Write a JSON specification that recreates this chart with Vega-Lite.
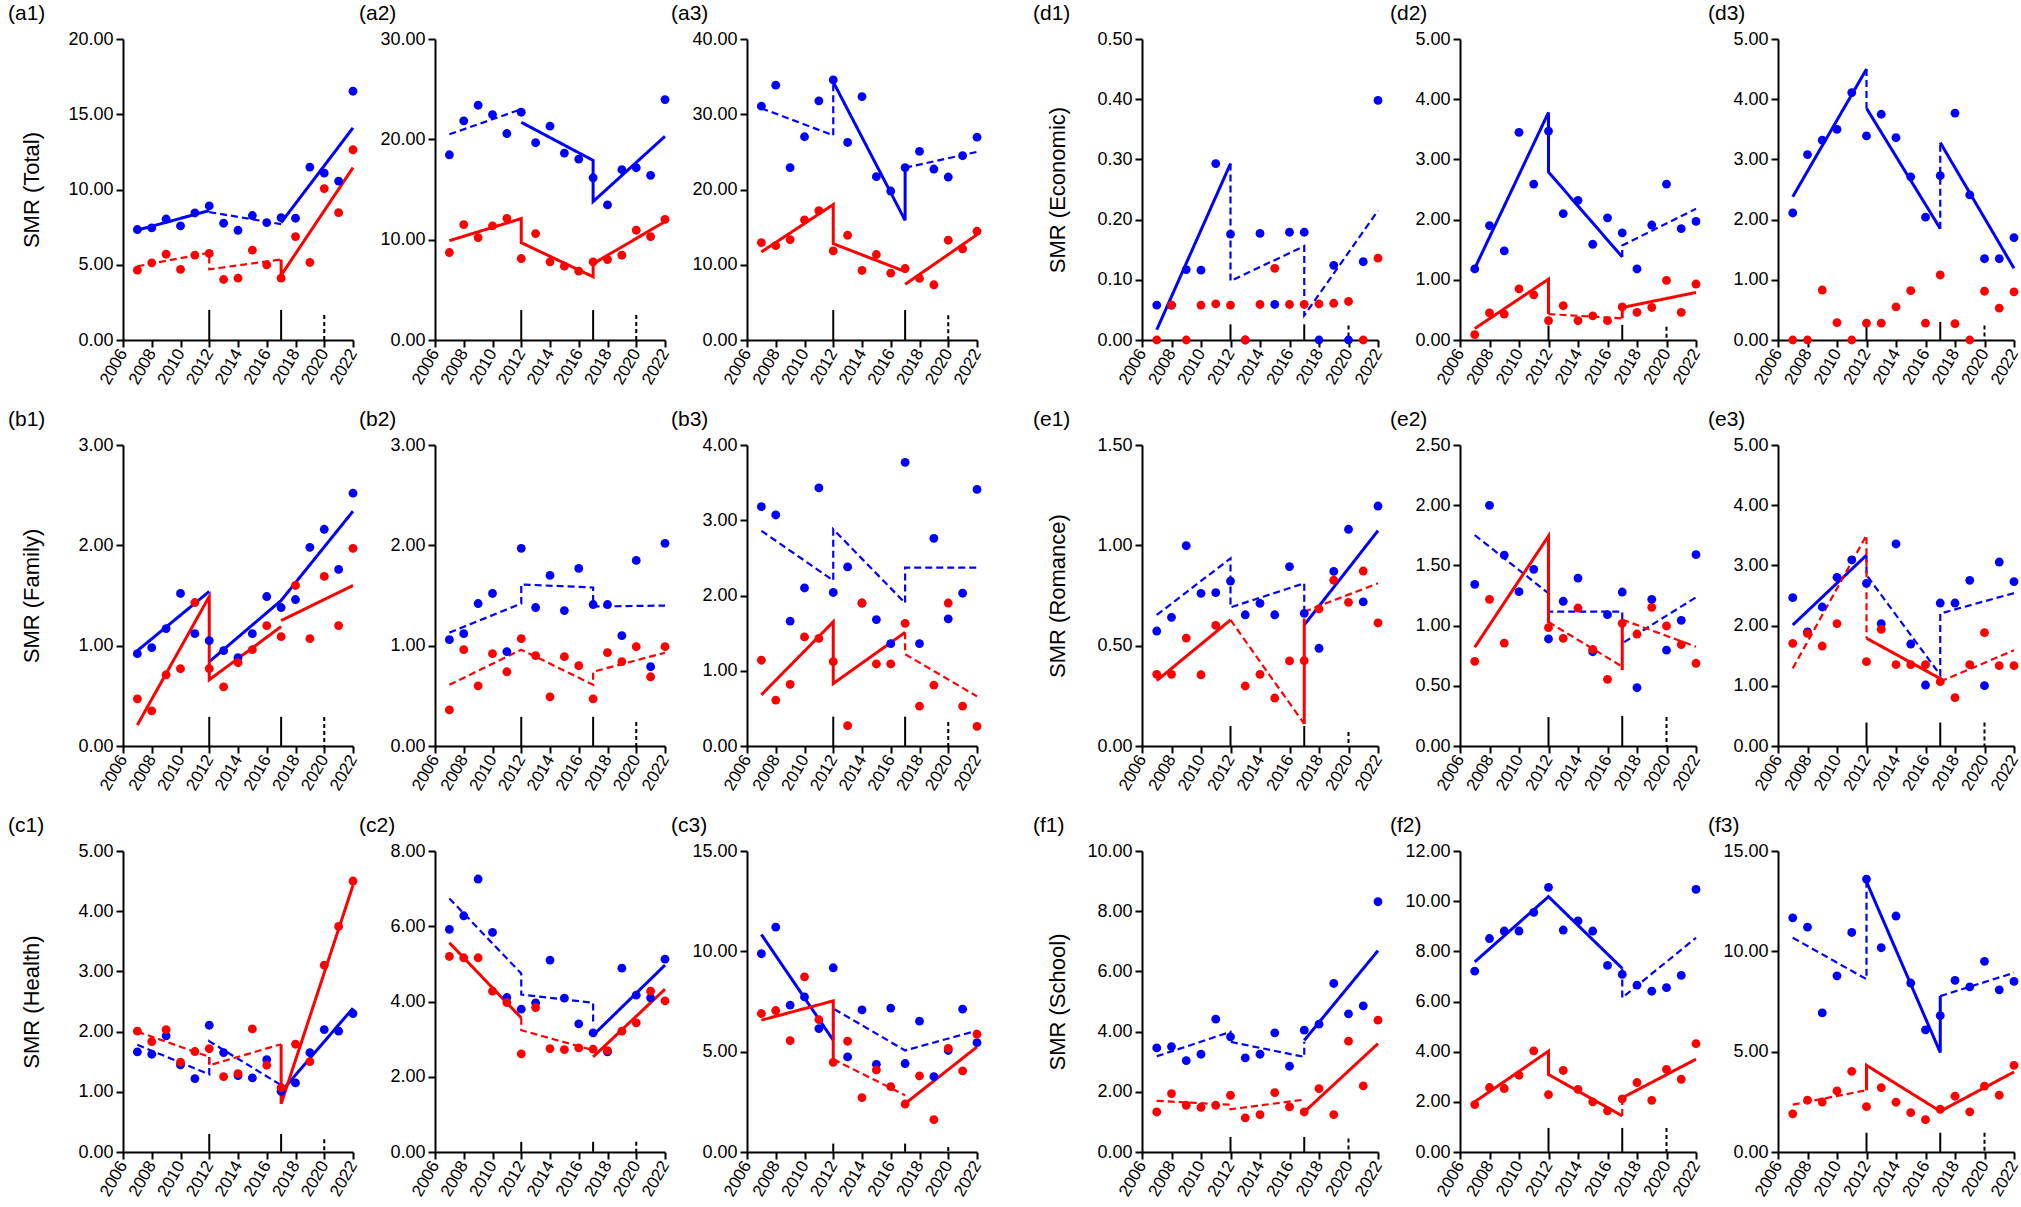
{
"$schema":"https://vega.github.io/schema/vega-lite/v6.json",
"padding":{"left":8,"top":3,"right":0,"bottom":0},
"background":"white",
"datasets":{
"mks":[
{"p":"a1","x":2012,"h":2.0,"d":"s"},{"p":"a1","x":2017,"h":2.0,"d":"s"},{"p":"a1","x":2020,"h":1.66,"d":"d"},
{"p":"a2","x":2012,"h":2.98,"d":"s"},{"p":"a2","x":2017,"h":2.98,"d":"s"},{"p":"a2","x":2020,"h":2.49,"d":"d"},
{"p":"a3","x":2012,"h":3.98,"d":"s"},{"p":"a3","x":2017,"h":3.98,"d":"s"},{"p":"a3","x":2020,"h":3.3,"d":"d"},
{"p":"d1","x":2012,"h":0.026,"d":"s"},{"p":"d1","x":2017,"h":0.026,"d":"s"},{"p":"d1","x":2020,"h":0.024,"d":"d"},
{"p":"d2","x":2012,"h":0.24,"d":"s"},{"p":"d2","x":2017,"h":0.25,"d":"s"},{"p":"d2","x":2020,"h":0.22,"d":"d"},
{"p":"d3","x":2012,"h":0.30,"d":"s"},{"p":"d3","x":2017,"h":0.30,"d":"s"},{"p":"d3","x":2020,"h":0.24,"d":"d"},
{"p":"b1","x":2012,"h":0.29,"d":"s"},{"p":"b1","x":2017,"h":0.29,"d":"s"},{"p":"b1","x":2020,"h":0.29,"d":"d"},
{"p":"b2","x":2012,"h":0.29,"d":"s"},{"p":"b2","x":2017,"h":0.29,"d":"s"},{"p":"b2","x":2020,"h":0.24,"d":"d"},
{"p":"b3","x":2012,"h":0.39,"d":"s"},{"p":"b3","x":2017,"h":0.39,"d":"s"},{"p":"b3","x":2020,"h":0.32,"d":"d"},
{"p":"e1","x":2012,"h":0.10,"d":"s"},{"p":"e1","x":2017,"h":0.10,"d":"s"},{"p":"e1","x":2020,"h":0.07,"d":"d"},
{"p":"e2","x":2012,"h":0.24,"d":"s"},{"p":"e2","x":2017,"h":0.25,"d":"s"},{"p":"e2","x":2020,"h":0.24,"d":"d"},
{"p":"e3","x":2012,"h":0.39,"d":"s"},{"p":"e3","x":2017,"h":0.39,"d":"s"},{"p":"e3","x":2020,"h":0.39,"d":"d"},
{"p":"c1","x":2012,"h":0.30,"d":"s"},{"p":"c1","x":2017,"h":0.30,"d":"s"},{"p":"c1","x":2020,"h":0.21,"d":"d"},
{"p":"c2","x":2012,"h":0.27,"d":"s"},{"p":"c2","x":2017,"h":0.27,"d":"s"},{"p":"c2","x":2020,"h":0.27,"d":"d"},
{"p":"c3","x":2012,"h":0.42,"d":"s"},{"p":"c3","x":2017,"h":0.42,"d":"s"},{"p":"c3","x":2020,"h":0.25,"d":"d"},
{"p":"f1","x":2012,"h":0.50,"d":"s"},{"p":"f1","x":2017,"h":0.50,"d":"s"},{"p":"f1","x":2020,"h":0.45,"d":"d"},
{"p":"f2","x":2012,"h":0.96,"d":"s"},{"p":"f2","x":2017,"h":0.96,"d":"s"},{"p":"f2","x":2020,"h":0.96,"d":"d"},
{"p":"f3","x":2012,"h":0.96,"d":"s"},{"p":"f3","x":2017,"h":0.96,"d":"s"},{"p":"f3","x":2020,"h":0.96,"d":"d"}
],
"lns":[
{"p":"a1","s":"B","g":"a1B1","d":"s","o":0,"x":2007,"y":7.3},{"p":"a1","s":"B","g":"a1B1","d":"s","o":1,"x":2012,"y":8.6},
{"p":"a1","s":"B","g":"a1B2","d":"d","o":0,"x":2012,"y":8.5},{"p":"a1","s":"B","g":"a1B2","d":"d","o":1,"x":2017,"y":7.7},
{"p":"a1","s":"B","g":"a1B3","d":"s","o":0,"x":2017,"y":7.8},{"p":"a1","s":"B","g":"a1B3","d":"s","o":1,"x":2022,"y":14.1},
{"p":"a1","s":"R","g":"a1R1","d":"d","o":0,"x":2007,"y":4.9},{"p":"a1","s":"R","g":"a1R1","d":"d","o":1,"x":2012,"y":5.8},{"p":"a1","s":"R","g":"a1R1","d":"d","o":2,"x":2012,"y":4.7},{"p":"a1","s":"R","g":"a1R1","d":"d","o":3,"x":2017,"y":5.35},
{"p":"a1","s":"R","g":"a1R2","d":"s","o":0,"x":2017,"y":5.35},{"p":"a1","s":"R","g":"a1R2","d":"s","o":1,"x":2017,"y":4.3},{"p":"a1","s":"R","g":"a1R2","d":"s","o":2,"x":2022,"y":11.45},
{"p":"a2","s":"B","g":"a2B1","d":"d","o":0,"x":2007,"y":20.5},{"p":"a2","s":"B","g":"a2B1","d":"d","o":1,"x":2012,"y":23.0},
{"p":"a2","s":"B","g":"a2B2","d":"s","o":0,"x":2012,"y":21.7},{"p":"a2","s":"B","g":"a2B2","d":"s","o":1,"x":2017,"y":17.9},{"p":"a2","s":"B","g":"a2B2","d":"s","o":2,"x":2017,"y":13.8},{"p":"a2","s":"B","g":"a2B2","d":"s","o":3,"x":2022,"y":20.3},
{"p":"a2","s":"R","g":"a2R1","d":"s","o":0,"x":2007,"y":9.9},{"p":"a2","s":"R","g":"a2R1","d":"s","o":1,"x":2012,"y":12.1},{"p":"a2","s":"R","g":"a2R1","d":"s","o":2,"x":2012,"y":9.7},{"p":"a2","s":"R","g":"a2R1","d":"s","o":3,"x":2017,"y":6.3},{"p":"a2","s":"R","g":"a2R1","d":"s","o":4,"x":2017,"y":7.6},{"p":"a2","s":"R","g":"a2R1","d":"s","o":5,"x":2022,"y":11.8},
{"p":"a3","s":"B","g":"a3B1","d":"d","o":0,"x":2007,"y":30.8},{"p":"a3","s":"B","g":"a3B1","d":"d","o":1,"x":2012,"y":27.2},{"p":"a3","s":"B","g":"a3B1","d":"d","o":2,"x":2012,"y":34.3},
{"p":"a3","s":"B","g":"a3B2","d":"s","o":0,"x":2012,"y":34.3},{"p":"a3","s":"B","g":"a3B2","d":"s","o":1,"x":2017,"y":15.9},{"p":"a3","s":"B","g":"a3B2","d":"s","o":2,"x":2017,"y":22.9},
{"p":"a3","s":"B","g":"a3B3","d":"d","o":0,"x":2017,"y":22.9},{"p":"a3","s":"B","g":"a3B3","d":"d","o":1,"x":2022,"y":25.0},
{"p":"a3","s":"R","g":"a3R1","d":"s","o":0,"x":2007,"y":11.7},{"p":"a3","s":"R","g":"a3R1","d":"s","o":1,"x":2012,"y":18.0},{"p":"a3","s":"R","g":"a3R1","d":"s","o":2,"x":2012,"y":12.8},{"p":"a3","s":"R","g":"a3R1","d":"s","o":3,"x":2017,"y":9.1},
{"p":"a3","s":"R","g":"a3R2","d":"s","o":0,"x":2017,"y":7.4},{"p":"a3","s":"R","g":"a3R2","d":"s","o":1,"x":2022,"y":14.0},
{"p":"d1","s":"B","g":"d1B1","d":"s","o":0,"x":2007,"y":0.017},{"p":"d1","s":"B","g":"d1B1","d":"s","o":1,"x":2012,"y":0.293},
{"p":"d1","s":"B","g":"d1B2","d":"d","o":0,"x":2012,"y":0.293},{"p":"d1","s":"B","g":"d1B2","d":"d","o":1,"x":2012,"y":0.098},{"p":"d1","s":"B","g":"d1B2","d":"d","o":2,"x":2017,"y":0.156},{"p":"d1","s":"B","g":"d1B2","d":"d","o":3,"x":2017,"y":0.041},{"p":"d1","s":"B","g":"d1B2","d":"d","o":4,"x":2022,"y":0.215},
{"p":"d2","s":"B","g":"d2B1","d":"s","o":0,"x":2007,"y":1.19},{"p":"d2","s":"B","g":"d2B1","d":"s","o":1,"x":2012,"y":3.78},{"p":"d2","s":"B","g":"d2B1","d":"s","o":2,"x":2012,"y":2.79},{"p":"d2","s":"B","g":"d2B1","d":"s","o":3,"x":2017,"y":1.38},
{"p":"d2","s":"B","g":"d2B2","d":"d","o":0,"x":2017,"y":1.38},{"p":"d2","s":"B","g":"d2B2","d":"d","o":1,"x":2017,"y":1.57},{"p":"d2","s":"B","g":"d2B2","d":"d","o":2,"x":2022,"y":2.18},
{"p":"d2","s":"R","g":"d2R1","d":"s","o":0,"x":2007,"y":0.19},{"p":"d2","s":"R","g":"d2R1","d":"s","o":1,"x":2012,"y":1.01},{"p":"d2","s":"R","g":"d2R1","d":"s","o":2,"x":2012,"y":0.43},
{"p":"d2","s":"R","g":"d2R2","d":"d","o":0,"x":2012,"y":0.43},{"p":"d2","s":"R","g":"d2R2","d":"d","o":1,"x":2017,"y":0.36},
{"p":"d2","s":"R","g":"d2R3","d":"s","o":0,"x":2017,"y":0.36},{"p":"d2","s":"R","g":"d2R3","d":"s","o":1,"x":2017,"y":0.54},{"p":"d2","s":"R","g":"d2R3","d":"s","o":2,"x":2022,"y":0.79},
{"p":"d3","s":"B","g":"d3B1","d":"s","o":0,"x":2007,"y":2.38},{"p":"d3","s":"B","g":"d3B1","d":"s","o":1,"x":2012,"y":4.50},
{"p":"d3","s":"B","g":"d3B2","d":"d","o":0,"x":2012,"y":4.50},{"p":"d3","s":"B","g":"d3B2","d":"d","o":1,"x":2012,"y":3.85},
{"p":"d3","s":"B","g":"d3B3","d":"s","o":0,"x":2012,"y":3.85},{"p":"d3","s":"B","g":"d3B3","d":"s","o":1,"x":2017,"y":1.85},
{"p":"d3","s":"B","g":"d3B4","d":"d","o":0,"x":2017,"y":1.85},{"p":"d3","s":"B","g":"d3B4","d":"d","o":1,"x":2017,"y":3.28},
{"p":"d3","s":"B","g":"d3B5","d":"s","o":0,"x":2017,"y":3.28},{"p":"d3","s":"B","g":"d3B5","d":"s","o":1,"x":2022,"y":1.19},
{"p":"b1","s":"B","g":"b1B1","d":"s","o":0,"x":2007,"y":0.95},{"p":"b1","s":"B","g":"b1B1","d":"s","o":1,"x":2012,"y":1.54},
{"p":"b1","s":"B","g":"b1B2","d":"s","o":0,"x":2012,"y":0.84},{"p":"b1","s":"B","g":"b1B2","d":"s","o":1,"x":2017,"y":1.45},{"p":"b1","s":"B","g":"b1B2","d":"s","o":2,"x":2022,"y":2.34},
{"p":"b1","s":"R","g":"b1R1","d":"s","o":0,"x":2007,"y":0.21},{"p":"b1","s":"R","g":"b1R1","d":"s","o":1,"x":2012,"y":1.49},{"p":"b1","s":"R","g":"b1R1","d":"s","o":2,"x":2012,"y":0.66},{"p":"b1","s":"R","g":"b1R1","d":"s","o":3,"x":2017,"y":1.19},
{"p":"b1","s":"R","g":"b1R2","d":"s","o":0,"x":2017,"y":1.25},{"p":"b1","s":"R","g":"b1R2","d":"s","o":1,"x":2022,"y":1.60},
{"p":"b2","s":"B","g":"b2B1","d":"d","o":0,"x":2007,"y":1.13},{"p":"b2","s":"B","g":"b2B1","d":"d","o":1,"x":2012,"y":1.42},{"p":"b2","s":"B","g":"b2B1","d":"d","o":2,"x":2012,"y":1.61},{"p":"b2","s":"B","g":"b2B1","d":"d","o":3,"x":2017,"y":1.58},{"p":"b2","s":"B","g":"b2B1","d":"d","o":4,"x":2017,"y":1.39},{"p":"b2","s":"B","g":"b2B1","d":"d","o":5,"x":2022,"y":1.40},
{"p":"b2","s":"R","g":"b2R1","d":"d","o":0,"x":2007,"y":0.61},{"p":"b2","s":"R","g":"b2R1","d":"d","o":1,"x":2012,"y":0.96},{"p":"b2","s":"R","g":"b2R1","d":"d","o":2,"x":2017,"y":0.61},{"p":"b2","s":"R","g":"b2R1","d":"d","o":3,"x":2017,"y":0.74},{"p":"b2","s":"R","g":"b2R1","d":"d","o":4,"x":2022,"y":0.93},
{"p":"b3","s":"B","g":"b3B1","d":"d","o":0,"x":2007,"y":2.86},{"p":"b3","s":"B","g":"b3B1","d":"d","o":1,"x":2012,"y":2.20},{"p":"b3","s":"B","g":"b3B1","d":"d","o":2,"x":2012,"y":2.88},{"p":"b3","s":"B","g":"b3B1","d":"d","o":3,"x":2017,"y":1.90},{"p":"b3","s":"B","g":"b3B1","d":"d","o":4,"x":2017,"y":2.37},{"p":"b3","s":"B","g":"b3B1","d":"d","o":5,"x":2022,"y":2.37},
{"p":"b3","s":"R","g":"b3R1","d":"s","o":0,"x":2007,"y":0.68},{"p":"b3","s":"R","g":"b3R1","d":"s","o":1,"x":2012,"y":1.65},{"p":"b3","s":"R","g":"b3R1","d":"s","o":2,"x":2012,"y":0.83},{"p":"b3","s":"R","g":"b3R1","d":"s","o":3,"x":2017,"y":1.51},
{"p":"b3","s":"R","g":"b3R2","d":"d","o":0,"x":2017,"y":1.51},{"p":"b3","s":"R","g":"b3R2","d":"d","o":1,"x":2017,"y":1.22},{"p":"b3","s":"R","g":"b3R2","d":"d","o":2,"x":2022,"y":0.66},
{"p":"e1","s":"B","g":"e1B1","d":"d","o":0,"x":2007,"y":0.653},{"p":"e1","s":"B","g":"e1B1","d":"d","o":1,"x":2012,"y":0.935},{"p":"e1","s":"B","g":"e1B1","d":"d","o":2,"x":2012,"y":0.691},{"p":"e1","s":"B","g":"e1B1","d":"d","o":3,"x":2017,"y":0.811},{"p":"e1","s":"B","g":"e1B1","d":"d","o":4,"x":2017,"y":0.645},
{"p":"e1","s":"B","g":"e1B2","d":"s","o":0,"x":2017,"y":0.603},{"p":"e1","s":"B","g":"e1B2","d":"s","o":1,"x":2022,"y":1.073},
{"p":"e1","s":"R","g":"e1R1","d":"s","o":0,"x":2007,"y":0.326},{"p":"e1","s":"R","g":"e1R1","d":"s","o":1,"x":2012,"y":0.628},
{"p":"e1","s":"R","g":"e1R2","d":"d","o":0,"x":2012,"y":0.628},{"p":"e1","s":"R","g":"e1R2","d":"d","o":1,"x":2017,"y":0.11},
{"p":"e1","s":"R","g":"e1R3","d":"s","o":0,"x":2017,"y":0.11},{"p":"e1","s":"R","g":"e1R3","d":"s","o":1,"x":2017,"y":0.636},
{"p":"e1","s":"R","g":"e1R4","d":"d","o":0,"x":2017,"y":0.669},{"p":"e1","s":"R","g":"e1R4","d":"d","o":1,"x":2022,"y":0.811},
{"p":"e2","s":"B","g":"e2B1","d":"d","o":0,"x":2007,"y":1.752},{"p":"e2","s":"B","g":"e2B1","d":"d","o":1,"x":2012,"y":1.268},{"p":"e2","s":"B","g":"e2B1","d":"d","o":2,"x":2012,"y":1.116},{"p":"e2","s":"B","g":"e2B1","d":"d","o":3,"x":2017,"y":1.116},{"p":"e2","s":"B","g":"e2B1","d":"d","o":4,"x":2017,"y":0.853},{"p":"e2","s":"B","g":"e2B1","d":"d","o":5,"x":2022,"y":1.235},
{"p":"e2","s":"R","g":"e2R1","d":"s","o":0,"x":2007,"y":0.82},{"p":"e2","s":"R","g":"e2R1","d":"s","o":1,"x":2012,"y":1.744},{"p":"e2","s":"R","g":"e2R1","d":"s","o":2,"x":2012,"y":1.02},
{"p":"e2","s":"R","g":"e2R2","d":"d","o":0,"x":2012,"y":1.03},{"p":"e2","s":"R","g":"e2R2","d":"d","o":1,"x":2017,"y":0.659},
{"p":"e2","s":"R","g":"e2R3","d":"s","o":0,"x":2017,"y":0.63},{"p":"e2","s":"R","g":"e2R3","d":"s","o":1,"x":2017,"y":1.05},
{"p":"e2","s":"R","g":"e2R4","d":"d","o":0,"x":2017,"y":1.05},{"p":"e2","s":"R","g":"e2R4","d":"d","o":1,"x":2022,"y":0.825},
{"p":"e3","s":"B","g":"e3B1","d":"s","o":0,"x":2007,"y":2.01},{"p":"e3","s":"B","g":"e3B1","d":"s","o":1,"x":2012,"y":3.17},
{"p":"e3","s":"B","g":"e3B2","d":"d","o":0,"x":2012,"y":3.17},{"p":"e3","s":"B","g":"e3B2","d":"d","o":1,"x":2012,"y":2.84},{"p":"e3","s":"B","g":"e3B2","d":"d","o":2,"x":2017,"y":1.18},{"p":"e3","s":"B","g":"e3B2","d":"d","o":3,"x":2017,"y":2.20},{"p":"e3","s":"B","g":"e3B2","d":"d","o":4,"x":2022,"y":2.54},
{"p":"e3","s":"R","g":"e3R1","d":"d","o":0,"x":2007,"y":1.29},{"p":"e3","s":"R","g":"e3R1","d":"d","o":1,"x":2012,"y":3.50},{"p":"e3","s":"R","g":"e3R1","d":"d","o":2,"x":2012,"y":1.79},
{"p":"e3","s":"R","g":"e3R2","d":"s","o":0,"x":2012,"y":1.79},{"p":"e3","s":"R","g":"e3R2","d":"s","o":1,"x":2017,"y":1.12},
{"p":"e3","s":"R","g":"e3R3","d":"d","o":0,"x":2017,"y":1.07},{"p":"e3","s":"R","g":"e3R3","d":"d","o":1,"x":2022,"y":1.59},
{"p":"c1","s":"B","g":"c1B1","d":"d","o":0,"x":2007,"y":1.78},{"p":"c1","s":"B","g":"c1B1","d":"d","o":1,"x":2012,"y":1.29},{"p":"c1","s":"B","g":"c1B1","d":"d","o":2,"x":2012,"y":1.84},{"p":"c1","s":"B","g":"c1B1","d":"d","o":3,"x":2017,"y":1.11},
{"p":"c1","s":"B","g":"c1B2","d":"s","o":0,"x":2017,"y":1.00},{"p":"c1","s":"B","g":"c1B2","d":"s","o":1,"x":2022,"y":2.39},
{"p":"c1","s":"R","g":"c1R1","d":"d","o":0,"x":2007,"y":2.0},{"p":"c1","s":"R","g":"c1R1","d":"d","o":1,"x":2012,"y":1.58},{"p":"c1","s":"R","g":"c1R1","d":"d","o":2,"x":2012,"y":1.44},{"p":"c1","s":"R","g":"c1R1","d":"d","o":3,"x":2017,"y":1.79},
{"p":"c1","s":"R","g":"c1R2","d":"s","o":0,"x":2017,"y":1.79},{"p":"c1","s":"R","g":"c1R2","d":"s","o":1,"x":2017,"y":0.80},{"p":"c1","s":"R","g":"c1R2","d":"s","o":2,"x":2022,"y":4.43},
{"p":"c2","s":"B","g":"c2B1","d":"d","o":0,"x":2007,"y":6.74},{"p":"c2","s":"B","g":"c2B1","d":"d","o":1,"x":2012,"y":4.745},{"p":"c2","s":"B","g":"c2B1","d":"d","o":2,"x":2012,"y":4.186},{"p":"c2","s":"B","g":"c2B1","d":"d","o":3,"x":2017,"y":3.965},{"p":"c2","s":"B","g":"c2B1","d":"d","o":4,"x":2017,"y":3.388},
{"p":"c2","s":"B","g":"c2B2","d":"s","o":0,"x":2017,"y":3.104},{"p":"c2","s":"B","g":"c2B2","d":"s","o":1,"x":2022,"y":4.967},
{"p":"c2","s":"R","g":"c2R1","d":"s","o":0,"x":2007,"y":5.561},{"p":"c2","s":"R","g":"c2R1","d":"s","o":1,"x":2012,"y":3.565},
{"p":"c2","s":"R","g":"c2R2","d":"d","o":0,"x":2012,"y":3.565},{"p":"c2","s":"R","g":"c2R2","d":"d","o":1,"x":2012,"y":3.237},{"p":"c2","s":"R","g":"c2R2","d":"d","o":2,"x":2017,"y":2.705},
{"p":"c2","s":"R","g":"c2R3","d":"s","o":0,"x":2017,"y":2.528},{"p":"c2","s":"R","g":"c2R3","d":"s","o":1,"x":2022,"y":4.328},
{"p":"c3","s":"B","g":"c3B1","d":"s","o":0,"x":2007,"y":10.84},{"p":"c3","s":"B","g":"c3B1","d":"s","o":1,"x":2012,"y":5.57},
{"p":"c3","s":"B","g":"c3B2","d":"d","o":0,"x":2012,"y":5.57},{"p":"c3","s":"B","g":"c3B2","d":"d","o":1,"x":2012,"y":7.15},{"p":"c3","s":"B","g":"c3B2","d":"d","o":2,"x":2017,"y":5.06},{"p":"c3","s":"B","g":"c3B2","d":"d","o":3,"x":2022,"y":6.05},
{"p":"c3","s":"R","g":"c3R1","d":"s","o":0,"x":2007,"y":6.57},{"p":"c3","s":"R","g":"c3R1","d":"s","o":1,"x":2012,"y":7.53},{"p":"c3","s":"R","g":"c3R1","d":"s","o":2,"x":2012,"y":4.62},
{"p":"c3","s":"R","g":"c3R2","d":"d","o":0,"x":2012,"y":4.62},{"p":"c3","s":"R","g":"c3R2","d":"d","o":1,"x":2017,"y":2.83},
{"p":"c3","s":"R","g":"c3R3","d":"s","o":0,"x":2017,"y":2.41},{"p":"c3","s":"R","g":"c3R3","d":"s","o":1,"x":2022,"y":5.24},
{"p":"f1","s":"B","g":"f1B1","d":"d","o":0,"x":2007,"y":3.18},{"p":"f1","s":"B","g":"f1B1","d":"d","o":1,"x":2012,"y":3.99},{"p":"f1","s":"B","g":"f1B1","d":"d","o":2,"x":2012,"y":3.66},{"p":"f1","s":"B","g":"f1B1","d":"d","o":3,"x":2017,"y":3.16},{"p":"f1","s":"B","g":"f1B1","d":"d","o":4,"x":2017,"y":3.66},
{"p":"f1","s":"B","g":"f1B2","d":"s","o":0,"x":2017,"y":3.71},{"p":"f1","s":"B","g":"f1B2","d":"s","o":1,"x":2022,"y":6.69},
{"p":"f1","s":"R","g":"f1R1","d":"d","o":0,"x":2007,"y":1.70},{"p":"f1","s":"R","g":"f1R1","d":"d","o":1,"x":2012,"y":1.57},{"p":"f1","s":"R","g":"f1R1","d":"d","o":2,"x":2012,"y":1.42},{"p":"f1","s":"R","g":"f1R1","d":"d","o":3,"x":2017,"y":1.74},
{"p":"f1","s":"R","g":"f1R2","d":"s","o":0,"x":2017,"y":1.33},{"p":"f1","s":"R","g":"f1R2","d":"s","o":1,"x":2022,"y":3.60},
{"p":"f2","s":"B","g":"f2B1","d":"s","o":0,"x":2007,"y":7.58},{"p":"f2","s":"B","g":"f2B1","d":"s","o":1,"x":2012,"y":10.18},{"p":"f2","s":"B","g":"f2B1","d":"s","o":2,"x":2017,"y":7.32},
{"p":"f2","s":"B","g":"f2B2","d":"d","o":0,"x":2017,"y":7.32},{"p":"f2","s":"B","g":"f2B2","d":"d","o":1,"x":2017,"y":6.15},{"p":"f2","s":"B","g":"f2B2","d":"d","o":2,"x":2022,"y":8.54},
{"p":"f2","s":"R","g":"f2R1","d":"s","o":0,"x":2007,"y":2.00},{"p":"f2","s":"R","g":"f2R1","d":"s","o":1,"x":2012,"y":4.02},{"p":"f2","s":"R","g":"f2R1","d":"s","o":2,"x":2012,"y":3.09},{"p":"f2","s":"R","g":"f2R1","d":"s","o":3,"x":2017,"y":1.44},
{"p":"f2","s":"R","g":"f2R2","d":"d","o":0,"x":2017,"y":1.44},{"p":"f2","s":"R","g":"f2R2","d":"d","o":1,"x":2017,"y":2.16},
{"p":"f2","s":"R","g":"f2R3","d":"s","o":0,"x":2017,"y":2.16},{"p":"f2","s":"R","g":"f2R3","d":"s","o":1,"x":2022,"y":3.70},
{"p":"f3","s":"B","g":"f3B1","d":"d","o":0,"x":2007,"y":10.68},{"p":"f3","s":"B","g":"f3B1","d":"d","o":1,"x":2012,"y":8.61},{"p":"f3","s":"B","g":"f3B1","d":"d","o":2,"x":2012,"y":13.47},
{"p":"f3","s":"B","g":"f3B2","d":"s","o":0,"x":2012,"y":13.47},{"p":"f3","s":"B","g":"f3B2","d":"s","o":1,"x":2017,"y":4.96},{"p":"f3","s":"B","g":"f3B2","d":"s","o":2,"x":2017,"y":7.77},
{"p":"f3","s":"B","g":"f3B3","d":"d","o":0,"x":2017,"y":7.77},{"p":"f3","s":"B","g":"f3B3","d":"d","o":1,"x":2022,"y":8.93},
{"p":"f3","s":"R","g":"f3R1","d":"d","o":0,"x":2007,"y":2.36},{"p":"f3","s":"R","g":"f3R1","d":"d","o":1,"x":2012,"y":3.08},
{"p":"f3","s":"R","g":"f3R2","d":"s","o":0,"x":2012,"y":3.08},{"p":"f3","s":"R","g":"f3R2","d":"s","o":1,"x":2012,"y":4.32},{"p":"f3","s":"R","g":"f3R2","d":"s","o":2,"x":2017,"y":2.03},{"p":"f3","s":"R","g":"f3R2","d":"s","o":3,"x":2022,"y":3.99}
],
"pts":[
{"p":"a1","s":"B","x":2007,"y":7.34},{"p":"a1","s":"B","x":2008,"y":7.45},{"p":"a1","s":"B","x":2009,"y":8.04},{"p":"a1","s":"B","x":2010,"y":7.58},{"p":"a1","s":"B","x":2011,"y":8.44},{"p":"a1","s":"B","x":2012,"y":8.91},{"p":"a1","s":"B","x":2013,"y":7.76},{"p":"a1","s":"B","x":2014,"y":7.29},{"p":"a1","s":"B","x":2015,"y":8.27},{"p":"a1","s":"B","x":2016,"y":7.80},{"p":"a1","s":"B","x":2017,"y":8.13},{"p":"a1","s":"B","x":2018,"y":8.09},{"p":"a1","s":"B","x":2019,"y":11.49},{"p":"a1","s":"B","x":2020,"y":11.09},{"p":"a1","s":"B","x":2021,"y":10.56},{"p":"a1","s":"B","x":2022,"y":16.53},
{"p":"a1","s":"R","x":2007,"y":4.64},{"p":"a1","s":"R","x":2008,"y":5.13},{"p":"a1","s":"R","x":2009,"y":5.70},{"p":"a1","s":"R","x":2010,"y":4.69},{"p":"a1","s":"R","x":2011,"y":5.64},{"p":"a1","s":"R","x":2012,"y":5.75},{"p":"a1","s":"R","x":2013,"y":4.02},{"p":"a1","s":"R","x":2014,"y":4.11},{"p":"a1","s":"R","x":2015,"y":5.97},{"p":"a1","s":"R","x":2016,"y":4.99},{"p":"a1","s":"R","x":2017,"y":4.11},{"p":"a1","s":"R","x":2018,"y":6.87},{"p":"a1","s":"R","x":2019,"y":5.15},{"p":"a1","s":"R","x":2020,"y":10.06},{"p":"a1","s":"R","x":2021,"y":8.46},{"p":"a1","s":"R","x":2022,"y":12.64},
{"p":"a2","s":"B","x":2007,"y":18.46},{"p":"a2","s":"B","x":2008,"y":21.84},{"p":"a2","s":"B","x":2009,"y":23.40},{"p":"a2","s":"B","x":2010,"y":22.47},{"p":"a2","s":"B","x":2011,"y":20.58},{"p":"a2","s":"B","x":2012,"y":22.70},{"p":"a2","s":"B","x":2013,"y":19.66},{"p":"a2","s":"B","x":2014,"y":21.31},{"p":"a2","s":"B","x":2015,"y":18.63},{"p":"a2","s":"B","x":2016,"y":18.03},{"p":"a2","s":"B","x":2017,"y":16.17},{"p":"a2","s":"B","x":2018,"y":13.46},{"p":"a2","s":"B","x":2019,"y":16.97},{"p":"a2","s":"B","x":2020,"y":17.17},{"p":"a2","s":"B","x":2021,"y":16.41},{"p":"a2","s":"B","x":2022,"y":23.96},
{"p":"a2","s":"R","x":2007,"y":8.72},{"p":"a2","s":"R","x":2008,"y":11.50},{"p":"a2","s":"R","x":2009,"y":10.21},{"p":"a2","s":"R","x":2010,"y":11.37},{"p":"a2","s":"R","x":2011,"y":12.13},{"p":"a2","s":"R","x":2012,"y":8.12},{"p":"a2","s":"R","x":2013,"y":10.61},{"p":"a2","s":"R","x":2014,"y":7.79},{"p":"a2","s":"R","x":2015,"y":7.36},{"p":"a2","s":"R","x":2016,"y":6.86},{"p":"a2","s":"R","x":2017,"y":7.79},{"p":"a2","s":"R","x":2018,"y":8.02},{"p":"a2","s":"R","x":2019,"y":8.45},{"p":"a2","s":"R","x":2020,"y":10.94},{"p":"a2","s":"R","x":2021,"y":10.31},{"p":"a2","s":"R","x":2022,"y":12.03},
{"p":"a3","s":"B","x":2007,"y":31.07},{"p":"a3","s":"B","x":2008,"y":33.86},{"p":"a3","s":"B","x":2009,"y":22.90},{"p":"a3","s":"B","x":2010,"y":27.01},{"p":"a3","s":"B","x":2011,"y":31.78},{"p":"a3","s":"B","x":2012,"y":34.56},{"p":"a3","s":"B","x":2013,"y":26.25},{"p":"a3","s":"B","x":2014,"y":32.35},{"p":"a3","s":"B","x":2015,"y":21.70},{"p":"a3","s":"B","x":2016,"y":19.80},{"p":"a3","s":"B","x":2017,"y":22.90},{"p":"a3","s":"B","x":2018,"y":25.06},{"p":"a3","s":"B","x":2019,"y":22.72},{"p":"a3","s":"B","x":2020,"y":21.66},{"p":"a3","s":"B","x":2021,"y":24.49},{"p":"a3","s":"B","x":2022,"y":26.96},
{"p":"a3","s":"R","x":2007,"y":12.95},{"p":"a3","s":"R","x":2008,"y":12.55},{"p":"a3","s":"R","x":2009,"y":13.35},{"p":"a3","s":"R","x":2010,"y":15.96},{"p":"a3","s":"R","x":2011,"y":17.19},{"p":"a3","s":"R","x":2012,"y":11.85},{"p":"a3","s":"R","x":2013,"y":13.92},{"p":"a3","s":"R","x":2014,"y":9.24},{"p":"a3","s":"R","x":2015,"y":11.36},{"p":"a3","s":"R","x":2016,"y":8.88},{"p":"a3","s":"R","x":2017,"y":9.50},{"p":"a3","s":"R","x":2018,"y":8.18},{"p":"a3","s":"R","x":2019,"y":7.34},{"p":"a3","s":"R","x":2020,"y":13.26},{"p":"a3","s":"R","x":2021,"y":12.11},{"p":"a3","s":"R","x":2022,"y":14.45},
{"p":"d1","s":"B","x":2007,"y":0.058},{"p":"d1","s":"B","x":2008,"y":0.058},{"p":"d1","s":"B","x":2009,"y":0.117},{"p":"d1","s":"B","x":2010,"y":0.116},{"p":"d1","s":"B","x":2011,"y":0.293},{"p":"d1","s":"B","x":2012,"y":0.176},{"p":"d1","s":"B","x":2013,"y":0},{"p":"d1","s":"B","x":2014,"y":0.177},{"p":"d1","s":"B","x":2015,"y":0.059},{"p":"d1","s":"B","x":2016,"y":0.179},{"p":"d1","s":"B","x":2017,"y":0.179},{"p":"d1","s":"B","x":2018,"y":0},{"p":"d1","s":"B","x":2019,"y":0.124},{"p":"d1","s":"B","x":2020,"y":0},{"p":"d1","s":"B","x":2021,"y":0.130},{"p":"d1","s":"B","x":2022,"y":0.398},
{"p":"d1","s":"R","x":2007,"y":0},{"p":"d1","s":"R","x":2008,"y":0.058},{"p":"d1","s":"R","x":2009,"y":0},{"p":"d1","s":"R","x":2010,"y":0.058},{"p":"d1","s":"R","x":2011,"y":0.060},{"p":"d1","s":"R","x":2012,"y":0.058},{"p":"d1","s":"R","x":2013,"y":0},{"p":"d1","s":"R","x":2014,"y":0.059},{"p":"d1","s":"R","x":2015,"y":0.119},{"p":"d1","s":"R","x":2016,"y":0.059},{"p":"d1","s":"R","x":2017,"y":0.059},{"p":"d1","s":"R","x":2018,"y":0.060},{"p":"d1","s":"R","x":2019,"y":0.061},{"p":"d1","s":"R","x":2020,"y":0.064},{"p":"d1","s":"R","x":2021,"y":0},{"p":"d1","s":"R","x":2022,"y":0.136},
{"p":"d2","s":"B","x":2007,"y":1.18},{"p":"d2","s":"B","x":2008,"y":1.90},{"p":"d2","s":"B","x":2009,"y":1.48},{"p":"d2","s":"B","x":2010,"y":3.45},{"p":"d2","s":"B","x":2011,"y":2.59},{"p":"d2","s":"B","x":2012,"y":3.47},{"p":"d2","s":"B","x":2013,"y":2.10},{"p":"d2","s":"B","x":2014,"y":2.32},{"p":"d2","s":"B","x":2015,"y":1.59},{"p":"d2","s":"B","x":2016,"y":2.03},{"p":"d2","s":"B","x":2017,"y":1.78},{"p":"d2","s":"B","x":2018,"y":1.18},{"p":"d2","s":"B","x":2019,"y":1.91},{"p":"d2","s":"B","x":2020,"y":2.59},{"p":"d2","s":"B","x":2021,"y":1.85},{"p":"d2","s":"B","x":2022,"y":1.97},
{"p":"d2","s":"R","x":2007,"y":0.09},{"p":"d2","s":"R","x":2008,"y":0.45},{"p":"d2","s":"R","x":2009,"y":0.43},{"p":"d2","s":"R","x":2010,"y":0.85},{"p":"d2","s":"R","x":2011,"y":0.75},{"p":"d2","s":"R","x":2012,"y":0.32},{"p":"d2","s":"R","x":2013,"y":0.57},{"p":"d2","s":"R","x":2014,"y":0.32},{"p":"d2","s":"R","x":2015,"y":0.40},{"p":"d2","s":"R","x":2016,"y":0.32},{"p":"d2","s":"R","x":2017,"y":0.55},{"p":"d2","s":"R","x":2018,"y":0.46},{"p":"d2","s":"R","x":2019,"y":0.54},{"p":"d2","s":"R","x":2020,"y":0.99},{"p":"d2","s":"R","x":2021,"y":0.46},{"p":"d2","s":"R","x":2022,"y":0.93},
{"p":"d3","s":"B","x":2007,"y":2.11},{"p":"d3","s":"B","x":2008,"y":3.08},{"p":"d3","s":"B","x":2009,"y":3.32},{"p":"d3","s":"B","x":2010,"y":3.50},{"p":"d3","s":"B","x":2011,"y":4.11},{"p":"d3","s":"B","x":2012,"y":3.39},{"p":"d3","s":"B","x":2013,"y":3.75},{"p":"d3","s":"B","x":2014,"y":3.36},{"p":"d3","s":"B","x":2015,"y":2.71},{"p":"d3","s":"B","x":2016,"y":2.04},{"p":"d3","s":"B","x":2017,"y":2.73},{"p":"d3","s":"B","x":2018,"y":3.77},{"p":"d3","s":"B","x":2019,"y":2.41},{"p":"d3","s":"B","x":2020,"y":1.35},{"p":"d3","s":"B","x":2021,"y":1.35},{"p":"d3","s":"B","x":2022,"y":1.70},
{"p":"d3","s":"R","x":2007,"y":0},{"p":"d3","s":"R","x":2008,"y":0},{"p":"d3","s":"R","x":2009,"y":0.83},{"p":"d3","s":"R","x":2010,"y":0.29},{"p":"d3","s":"R","x":2011,"y":0},{"p":"d3","s":"R","x":2012,"y":0.28},{"p":"d3","s":"R","x":2013,"y":0.28},{"p":"d3","s":"R","x":2014,"y":0.55},{"p":"d3","s":"R","x":2015,"y":0.82},{"p":"d3","s":"R","x":2016,"y":0.28},{"p":"d3","s":"R","x":2017,"y":1.08},{"p":"d3","s":"R","x":2018,"y":0.27},{"p":"d3","s":"R","x":2019,"y":0},{"p":"d3","s":"R","x":2020,"y":0.81},{"p":"d3","s":"R","x":2021,"y":0.53},{"p":"d3","s":"R","x":2022,"y":0.80},
{"p":"b1","s":"B","x":2007,"y":0.92},{"p":"b1","s":"B","x":2008,"y":0.98},{"p":"b1","s":"B","x":2009,"y":1.17},{"p":"b1","s":"B","x":2010,"y":1.52},{"p":"b1","s":"B","x":2011,"y":1.12},{"p":"b1","s":"B","x":2012,"y":1.05},{"p":"b1","s":"B","x":2013,"y":0.95},{"p":"b1","s":"B","x":2014,"y":0.88},{"p":"b1","s":"B","x":2015,"y":1.12},{"p":"b1","s":"B","x":2016,"y":1.49},{"p":"b1","s":"B","x":2017,"y":1.38},{"p":"b1","s":"B","x":2018,"y":1.46},{"p":"b1","s":"B","x":2019,"y":1.98},{"p":"b1","s":"B","x":2020,"y":2.16},{"p":"b1","s":"B","x":2021,"y":1.76},{"p":"b1","s":"B","x":2022,"y":2.52},
{"p":"b1","s":"R","x":2007,"y":0.47},{"p":"b1","s":"R","x":2008,"y":0.35},{"p":"b1","s":"R","x":2009,"y":0.71},{"p":"b1","s":"R","x":2010,"y":0.77},{"p":"b1","s":"R","x":2011,"y":1.43},{"p":"b1","s":"R","x":2012,"y":0.77},{"p":"b1","s":"R","x":2013,"y":0.59},{"p":"b1","s":"R","x":2014,"y":0.83},{"p":"b1","s":"R","x":2015,"y":0.96},{"p":"b1","s":"R","x":2016,"y":1.20},{"p":"b1","s":"R","x":2017,"y":1.09},{"p":"b1","s":"R","x":2018,"y":1.60},{"p":"b1","s":"R","x":2019,"y":1.07},{"p":"b1","s":"R","x":2020,"y":1.69},{"p":"b1","s":"R","x":2021,"y":1.20},{"p":"b1","s":"R","x":2022,"y":1.97},
{"p":"b2","s":"B","x":2007,"y":1.06},{"p":"b2","s":"B","x":2008,"y":1.12},{"p":"b2","s":"B","x":2009,"y":1.42},{"p":"b2","s":"B","x":2010,"y":1.52},{"p":"b2","s":"B","x":2011,"y":0.94},{"p":"b2","s":"B","x":2012,"y":1.97},{"p":"b2","s":"B","x":2013,"y":1.38},{"p":"b2","s":"B","x":2014,"y":1.70},{"p":"b2","s":"B","x":2015,"y":1.35},{"p":"b2","s":"B","x":2016,"y":1.77},{"p":"b2","s":"B","x":2017,"y":1.41},{"p":"b2","s":"B","x":2018,"y":1.41},{"p":"b2","s":"B","x":2019,"y":1.10},{"p":"b2","s":"B","x":2020,"y":1.85},{"p":"b2","s":"B","x":2021,"y":0.79},{"p":"b2","s":"B","x":2022,"y":2.02},
{"p":"b2","s":"R","x":2007,"y":0.36},{"p":"b2","s":"R","x":2008,"y":0.96},{"p":"b2","s":"R","x":2009,"y":0.60},{"p":"b2","s":"R","x":2010,"y":0.92},{"p":"b2","s":"R","x":2011,"y":0.74},{"p":"b2","s":"R","x":2012,"y":1.07},{"p":"b2","s":"R","x":2013,"y":0.90},{"p":"b2","s":"R","x":2014,"y":0.49},{"p":"b2","s":"R","x":2015,"y":0.89},{"p":"b2","s":"R","x":2016,"y":0.80},{"p":"b2","s":"R","x":2017,"y":0.47},{"p":"b2","s":"R","x":2018,"y":0.93},{"p":"b2","s":"R","x":2019,"y":0.84},{"p":"b2","s":"R","x":2020,"y":0.99},{"p":"b2","s":"R","x":2021,"y":0.69},{"p":"b2","s":"R","x":2022,"y":0.99},
{"p":"b3","s":"B","x":2007,"y":3.18},{"p":"b3","s":"B","x":2008,"y":3.07},{"p":"b3","s":"B","x":2009,"y":1.66},{"p":"b3","s":"B","x":2010,"y":2.10},{"p":"b3","s":"B","x":2011,"y":3.43},{"p":"b3","s":"B","x":2012,"y":2.04},{"p":"b3","s":"B","x":2013,"y":2.38},{"p":"b3","s":"B","x":2014,"y":1.90},{"p":"b3","s":"B","x":2015,"y":1.68},{"p":"b3","s":"B","x":2016,"y":1.36},{"p":"b3","s":"B","x":2017,"y":3.77},{"p":"b3","s":"B","x":2018,"y":1.36},{"p":"b3","s":"B","x":2019,"y":2.76},{"p":"b3","s":"B","x":2020,"y":1.69},{"p":"b3","s":"B","x":2021,"y":2.03},{"p":"b3","s":"B","x":2022,"y":3.41},
{"p":"b3","s":"R","x":2007,"y":1.14},{"p":"b3","s":"R","x":2008,"y":0.61},{"p":"b3","s":"R","x":2009,"y":0.82},{"p":"b3","s":"R","x":2010,"y":1.45},{"p":"b3","s":"R","x":2011,"y":1.43},{"p":"b3","s":"R","x":2012,"y":1.12},{"p":"b3","s":"R","x":2013,"y":0.27},{"p":"b3","s":"R","x":2014,"y":1.90},{"p":"b3","s":"R","x":2015,"y":1.09},{"p":"b3","s":"R","x":2016,"y":1.09},{"p":"b3","s":"R","x":2017,"y":1.63},{"p":"b3","s":"R","x":2018,"y":0.53},{"p":"b3","s":"R","x":2019,"y":0.81},{"p":"b3","s":"R","x":2020,"y":1.90},{"p":"b3","s":"R","x":2021,"y":0.53},{"p":"b3","s":"R","x":2022,"y":0.26},
{"p":"e1","s":"B","x":2007,"y":0.573},{"p":"e1","s":"B","x":2008,"y":0.641},{"p":"e1","s":"B","x":2009,"y":0.998},{"p":"e1","s":"B","x":2010,"y":0.761},{"p":"e1","s":"B","x":2011,"y":0.764},{"p":"e1","s":"B","x":2012,"y":0.822},{"p":"e1","s":"B","x":2013,"y":0.654},{"p":"e1","s":"B","x":2014,"y":0.711},{"p":"e1","s":"B","x":2015,"y":0.654},{"p":"e1","s":"B","x":2016,"y":0.894},{"p":"e1","s":"B","x":2017,"y":0.661},{"p":"e1","s":"B","x":2018,"y":0.487},{"p":"e1","s":"B","x":2019,"y":0.870},{"p":"e1","s":"B","x":2020,"y":1.080},{"p":"e1","s":"B","x":2021,"y":0.718},{"p":"e1","s":"B","x":2022,"y":1.196},
{"p":"e1","s":"R","x":2007,"y":0.357},{"p":"e1","s":"R","x":2008,"y":0.357},{"p":"e1","s":"R","x":2009,"y":0.538},{"p":"e1","s":"R","x":2010,"y":0.355},{"p":"e1","s":"R","x":2011,"y":0.601},{"p":"e1","s":"R","x":2013,"y":0.299},{"p":"e1","s":"R","x":2014,"y":0.357},{"p":"e1","s":"R","x":2015,"y":0.239},{"p":"e1","s":"R","x":2016,"y":0.424},{"p":"e1","s":"R","x":2017,"y":0.425},{"p":"e1","s":"R","x":2018,"y":0.683},{"p":"e1","s":"R","x":2019,"y":0.826},{"p":"e1","s":"R","x":2020,"y":0.716},{"p":"e1","s":"R","x":2021,"y":0.872},{"p":"e1","s":"R","x":2022,"y":0.613},
{"p":"e2","s":"B","x":2007,"y":1.343},{"p":"e2","s":"B","x":2008,"y":1.999},{"p":"e2","s":"B","x":2009,"y":1.586},{"p":"e2","s":"B","x":2010,"y":1.282},{"p":"e2","s":"B","x":2011,"y":1.467},{"p":"e2","s":"B","x":2012,"y":0.889},{"p":"e2","s":"B","x":2013,"y":1.202},{"p":"e2","s":"B","x":2014,"y":1.395},{"p":"e2","s":"B","x":2015,"y":0.783},{"p":"e2","s":"B","x":2016,"y":1.091},{"p":"e2","s":"B","x":2017,"y":1.279},{"p":"e2","s":"B","x":2018,"y":0.484},{"p":"e2","s":"B","x":2019,"y":1.218},{"p":"e2","s":"B","x":2020,"y":0.797},{"p":"e2","s":"B","x":2021,"y":1.044},{"p":"e2","s":"B","x":2022,"y":1.589},
{"p":"e2","s":"R","x":2007,"y":0.703},{"p":"e2","s":"R","x":2008,"y":1.218},{"p":"e2","s":"R","x":2009,"y":0.855},{"p":"e2","s":"R","x":2012,"y":0.983},{"p":"e2","s":"R","x":2013,"y":0.894},{"p":"e2","s":"R","x":2014,"y":1.146},{"p":"e2","s":"R","x":2015,"y":0.803},{"p":"e2","s":"R","x":2016,"y":0.554},{"p":"e2","s":"R","x":2017,"y":1.019},{"p":"e2","s":"R","x":2018,"y":0.930},{"p":"e2","s":"R","x":2019,"y":1.152},{"p":"e2","s":"R","x":2020,"y":0.997},{"p":"e2","s":"R","x":2021,"y":0.842},{"p":"e2","s":"R","x":2022,"y":0.687},
{"p":"e3","s":"B","x":2007,"y":2.464},{"p":"e3","s":"B","x":2008,"y":1.894},{"p":"e3","s":"B","x":2009,"y":2.309},{"p":"e3","s":"B","x":2010,"y":2.802},{"p":"e3","s":"B","x":2011,"y":3.090},{"p":"e3","s":"B","x":2012,"y":2.702},{"p":"e3","s":"B","x":2013,"y":2.032},{"p":"e3","s":"B","x":2014,"y":3.356},{"p":"e3","s":"B","x":2015,"y":1.694},{"p":"e3","s":"B","x":2016,"y":1.013},{"p":"e3","s":"B","x":2017,"y":2.375},{"p":"e3","s":"B","x":2018,"y":2.375},{"p":"e3","s":"B","x":2019,"y":2.752},{"p":"e3","s":"B","x":2020,"y":1.002},{"p":"e3","s":"B","x":2021,"y":3.056},{"p":"e3","s":"B","x":2022,"y":2.730},
{"p":"e3","s":"R","x":2007,"y":1.705},{"p":"e3","s":"R","x":2008,"y":1.872},{"p":"e3","s":"R","x":2009,"y":1.661},{"p":"e3","s":"R","x":2010,"y":2.032},{"p":"e3","s":"R","x":2012,"y":1.401},{"p":"e3","s":"R","x":2013,"y":1.938},{"p":"e3","s":"R","x":2014,"y":1.351},{"p":"e3","s":"R","x":2015,"y":1.351},{"p":"e3","s":"R","x":2016,"y":1.351},{"p":"e3","s":"R","x":2017,"y":1.069},{"p":"e3","s":"R","x":2018,"y":0.803},{"p":"e3","s":"R","x":2019,"y":1.351},{"p":"e3","s":"R","x":2020,"y":1.883},{"p":"e3","s":"R","x":2021,"y":1.334},{"p":"e3","s":"R","x":2022,"y":1.334},
{"p":"c1","s":"B","x":2007,"y":1.663},{"p":"c1","s":"B","x":2008,"y":1.624},{"p":"c1","s":"B","x":2009,"y":1.929},{"p":"c1","s":"B","x":2010,"y":1.447},{"p":"c1","s":"B","x":2011,"y":1.220},{"p":"c1","s":"B","x":2012,"y":2.106},{"p":"c1","s":"B","x":2013,"y":1.652},{"p":"c1","s":"B","x":2014,"y":1.269},{"p":"c1","s":"B","x":2015,"y":1.231},{"p":"c1","s":"B","x":2016,"y":1.535},{"p":"c1","s":"B","x":2017,"y":1.009},{"p":"c1","s":"B","x":2018,"y":1.147},{"p":"c1","s":"B","x":2019,"y":1.652},{"p":"c1","s":"B","x":2020,"y":2.034},{"p":"c1","s":"B","x":2021,"y":2.007},{"p":"c1","s":"B","x":2022,"y":2.300},
{"p":"c1","s":"R","x":2007,"y":2.007},{"p":"c1","s":"R","x":2008,"y":1.835},{"p":"c1","s":"R","x":2009,"y":2.034},{"p":"c1","s":"R","x":2010,"y":1.491},{"p":"c1","s":"R","x":2011,"y":1.669},{"p":"c1","s":"R","x":2012,"y":1.718},{"p":"c1","s":"R","x":2013,"y":1.253},{"p":"c1","s":"R","x":2014,"y":1.303},{"p":"c1","s":"R","x":2015,"y":2.045},{"p":"c1","s":"R","x":2016,"y":1.441},{"p":"c1","s":"R","x":2017,"y":1.070},{"p":"c1","s":"R","x":2018,"y":1.790},{"p":"c1","s":"R","x":2019,"y":1.502},{"p":"c1","s":"R","x":2020,"y":3.104},{"p":"c1","s":"R","x":2021,"y":3.747},{"p":"c1","s":"R","x":2022,"y":4.501},
{"p":"c2","s":"B","x":2007,"y":5.916},{"p":"c2","s":"B","x":2008,"y":6.279},{"p":"c2","s":"B","x":2009,"y":7.255},{"p":"c2","s":"B","x":2010,"y":5.836},{"p":"c2","s":"B","x":2011,"y":4.106},{"p":"c2","s":"B","x":2012,"y":3.796},{"p":"c2","s":"B","x":2013,"y":3.965},{"p":"c2","s":"B","x":2014,"y":5.100},{"p":"c2","s":"B","x":2015,"y":4.089},{"p":"c2","s":"B","x":2016,"y":3.406},{"p":"c2","s":"B","x":2017,"y":3.166},{"p":"c2","s":"B","x":2018,"y":2.661},{"p":"c2","s":"B","x":2019,"y":4.887},{"p":"c2","s":"B","x":2020,"y":4.168},{"p":"c2","s":"B","x":2021,"y":4.098},{"p":"c2","s":"B","x":2022,"y":5.126},
{"p":"c2","s":"R","x":2007,"y":5.197},{"p":"c2","s":"R","x":2008,"y":5.162},{"p":"c2","s":"R","x":2009,"y":5.162},{"p":"c2","s":"R","x":2010,"y":4.275},{"p":"c2","s":"R","x":2011,"y":3.973},{"p":"c2","s":"R","x":2012,"y":2.608},{"p":"c2","s":"R","x":2013,"y":3.840},{"p":"c2","s":"R","x":2014,"y":2.749},{"p":"c2","s":"R","x":2015,"y":2.723},{"p":"c2","s":"R","x":2016,"y":2.767},{"p":"c2","s":"R","x":2017,"y":2.732},{"p":"c2","s":"R","x":2018,"y":2.696},{"p":"c2","s":"R","x":2019,"y":3.211},{"p":"c2","s":"R","x":2020,"y":3.432},{"p":"c2","s":"R","x":2021,"y":4.275},{"p":"c2","s":"R","x":2022,"y":4.018},
{"p":"c3","s":"B","x":2007,"y":9.88},{"p":"c3","s":"B","x":2008,"y":11.21},{"p":"c3","s":"B","x":2009,"y":7.32},{"p":"c3","s":"B","x":2010,"y":7.73},{"p":"c3","s":"B","x":2011,"y":6.15},{"p":"c3","s":"B","x":2012,"y":9.18},{"p":"c3","s":"B","x":2013,"y":4.74},{"p":"c3","s":"B","x":2014,"y":7.08},{"p":"c3","s":"B","x":2015,"y":4.37},{"p":"c3","s":"B","x":2016,"y":7.17},{"p":"c3","s":"B","x":2017,"y":4.41},{"p":"c3","s":"B","x":2018,"y":6.52},{"p":"c3","s":"B","x":2019,"y":3.76},{"p":"c3","s":"B","x":2020,"y":5.06},{"p":"c3","s":"B","x":2021,"y":7.12},{"p":"c3","s":"B","x":2022,"y":5.45},
{"p":"c3","s":"R","x":2007,"y":6.90},{"p":"c3","s":"R","x":2008,"y":7.05},{"p":"c3","s":"R","x":2009,"y":5.55},{"p":"c3","s":"R","x":2010,"y":8.73},{"p":"c3","s":"R","x":2011,"y":6.60},{"p":"c3","s":"R","x":2012,"y":4.47},{"p":"c3","s":"R","x":2013,"y":5.52},{"p":"c3","s":"R","x":2014,"y":2.71},{"p":"c3","s":"R","x":2015,"y":4.09},{"p":"c3","s":"R","x":2016,"y":3.26},{"p":"c3","s":"R","x":2017,"y":2.39},{"p":"c3","s":"R","x":2018,"y":3.79},{"p":"c3","s":"R","x":2019,"y":1.61},{"p":"c3","s":"R","x":2020,"y":5.16},{"p":"c3","s":"R","x":2021,"y":4.04},{"p":"c3","s":"R","x":2022,"y":5.87},
{"p":"f1","s":"B","x":2007,"y":3.459},{"p":"f1","s":"B","x":2008,"y":3.503},{"p":"f1","s":"B","x":2009,"y":3.038},{"p":"f1","s":"B","x":2010,"y":3.248},{"p":"f1","s":"B","x":2011,"y":4.412},{"p":"f1","s":"B","x":2012,"y":3.825},{"p":"f1","s":"B","x":2013,"y":3.126},{"p":"f1","s":"B","x":2014,"y":3.248},{"p":"f1","s":"B","x":2015,"y":3.958},{"p":"f1","s":"B","x":2016,"y":2.849},{"p":"f1","s":"B","x":2017,"y":4.047},{"p":"f1","s":"B","x":2018,"y":4.246},{"p":"f1","s":"B","x":2019,"y":5.599},{"p":"f1","s":"B","x":2020,"y":4.590},{"p":"f1","s":"B","x":2021,"y":4.856},{"p":"f1","s":"B","x":2022,"y":8.315},
{"p":"f1","s":"R","x":2007,"y":1.330},{"p":"f1","s":"R","x":2008,"y":1.940},{"p":"f1","s":"R","x":2009,"y":1.552},{"p":"f1","s":"R","x":2010,"y":1.486},{"p":"f1","s":"R","x":2011,"y":1.552},{"p":"f1","s":"R","x":2012,"y":1.885},{"p":"f1","s":"R","x":2013,"y":1.131},{"p":"f1","s":"R","x":2014,"y":1.242},{"p":"f1","s":"R","x":2015,"y":1.973},{"p":"f1","s":"R","x":2016,"y":1.497},{"p":"f1","s":"R","x":2017,"y":1.330},{"p":"f1","s":"R","x":2018,"y":2.106},{"p":"f1","s":"R","x":2019,"y":1.242},{"p":"f1","s":"R","x":2020,"y":3.681},{"p":"f1","s":"R","x":2021,"y":2.195},{"p":"f1","s":"R","x":2022,"y":4.379},
{"p":"f2","s":"B","x":2007,"y":7.21},{"p":"f2","s":"B","x":2008,"y":8.51},{"p":"f2","s":"B","x":2009,"y":8.81},{"p":"f2","s":"B","x":2010,"y":8.81},{"p":"f2","s":"B","x":2011,"y":9.55},{"p":"f2","s":"B","x":2012,"y":10.55},{"p":"f2","s":"B","x":2013,"y":8.85},{"p":"f2","s":"B","x":2014,"y":9.21},{"p":"f2","s":"B","x":2015,"y":8.81},{"p":"f2","s":"B","x":2016,"y":7.44},{"p":"f2","s":"B","x":2017,"y":7.08},{"p":"f2","s":"B","x":2018,"y":6.65},{"p":"f2","s":"B","x":2019,"y":6.41},{"p":"f2","s":"B","x":2020,"y":6.55},{"p":"f2","s":"B","x":2021,"y":7.04},{"p":"f2","s":"B","x":2022,"y":10.47},
{"p":"f2","s":"R","x":2007,"y":1.89},{"p":"f2","s":"R","x":2008,"y":2.57},{"p":"f2","s":"R","x":2009,"y":2.53},{"p":"f2","s":"R","x":2010,"y":3.06},{"p":"f2","s":"R","x":2011,"y":4.03},{"p":"f2","s":"R","x":2012,"y":2.29},{"p":"f2","s":"R","x":2013,"y":3.25},{"p":"f2","s":"R","x":2014,"y":2.50},{"p":"f2","s":"R","x":2015,"y":2.00},{"p":"f2","s":"R","x":2016,"y":1.64},{"p":"f2","s":"R","x":2017,"y":2.12},{"p":"f2","s":"R","x":2018,"y":2.77},{"p":"f2","s":"R","x":2019,"y":2.06},{"p":"f2","s":"R","x":2020,"y":3.29},{"p":"f2","s":"R","x":2021,"y":2.90},{"p":"f2","s":"R","x":2022,"y":4.32},
{"p":"f3","s":"B","x":2007,"y":11.67},{"p":"f3","s":"B","x":2008,"y":11.21},{"p":"f3","s":"B","x":2009,"y":6.93},{"p":"f3","s":"B","x":2010,"y":8.78},{"p":"f3","s":"B","x":2011,"y":10.94},{"p":"f3","s":"B","x":2012,"y":13.60},{"p":"f3","s":"B","x":2013,"y":10.18},{"p":"f3","s":"B","x":2014,"y":11.76},{"p":"f3","s":"B","x":2015,"y":8.42},{"p":"f3","s":"B","x":2016,"y":6.09},{"p":"f3","s":"B","x":2017,"y":6.80},{"p":"f3","s":"B","x":2018,"y":8.55},{"p":"f3","s":"B","x":2019,"y":8.23},{"p":"f3","s":"B","x":2020,"y":9.50},{"p":"f3","s":"B","x":2021,"y":8.08},{"p":"f3","s":"B","x":2022,"y":8.50},
{"p":"f3","s":"R","x":2007,"y":1.90},{"p":"f3","s":"R","x":2008,"y":2.58},{"p":"f3","s":"R","x":2009,"y":2.49},{"p":"f3","s":"R","x":2010,"y":3.04},{"p":"f3","s":"R","x":2011,"y":4.02},{"p":"f3","s":"R","x":2012,"y":2.26},{"p":"f3","s":"R","x":2013,"y":3.21},{"p":"f3","s":"R","x":2014,"y":2.48},{"p":"f3","s":"R","x":2015,"y":1.96},{"p":"f3","s":"R","x":2016,"y":1.61},{"p":"f3","s":"R","x":2017,"y":2.13},{"p":"f3","s":"R","x":2018,"y":2.78},{"p":"f3","s":"R","x":2019,"y":2.00},{"p":"f3","s":"R","x":2020,"y":3.28},{"p":"f3","s":"R","x":2021,"y":2.83},{"p":"f3","s":"R","x":2022,"y":4.32}
]
},
"columns":7,
"spacing":{"row":105,"column":82},
"bounds":"flush",
"align":"each",
"concat":[
{"width":230,"height":301,"title":{"text":"(a1)","dx":-115},"layer":[
{"data":{"name":"mks"},"transform":[{"filter":"datum.p==='a1' && datum.d==='s'"}],"mark":{"type":"rule","color":"#000","strokeWidth":2},"encoding":{"x":{"field":"x","type":"quantitative","scale":{"domain":[2006,2022],"nice":false,"zero":false},"axis":{"values":[2006,2008,2010,2012,2014,2016,2018,2020,2022],"format":"d","title":null,"labelOverlap":false,"labelAngle":-60,"labelFontSize":17}},"y":{"field":"h","type":"quantitative"},"y2":{"datum":0}}},
{"data":{"name":"mks"},"transform":[{"filter":"datum.p==='a1' && datum.d==='d'"}],"mark":{"type":"rule","color":"#000","strokeWidth":2,"strokeDash":[4,3]},"encoding":{"x":{"field":"x","type":"quantitative","scale":{"domain":[2006,2022],"nice":false,"zero":false},"axis":{"values":[2006,2008,2010,2012,2014,2016,2018,2020,2022],"format":"d","title":null,"labelOverlap":false,"labelAngle":-60,"labelFontSize":17}},"y":{"field":"h","type":"quantitative"},"y2":{"datum":0}}},
{"data":{"name":"lns"},"transform":[{"filter":"datum.p==='a1'"}],"mark":{"type":"line"},"encoding":{"x":{"field":"x","type":"quantitative","scale":{"domain":[2006,2022],"nice":false,"zero":false},"axis":{"values":[2006,2008,2010,2012,2014,2016,2018,2020,2022],"format":"d","title":null,"labelOverlap":false,"labelAngle":-60,"labelFontSize":17}},"y":{"field":"y","type":"quantitative"},"color":{"field":"s","type":"nominal","scale":{"domain":["B","R"],"range":["#0000ff","#ff0000"]},"legend":null},"detail":{"field":"g","type":"nominal"},"order":{"field":"o","type":"quantitative"},"strokeDash":{"field":"d","type":"nominal","scale":{"domain":["s","d"],"range":[[1,0],[7,4]]},"legend":null},"strokeWidth":{"field":"d","type":"ordinal","scale":{"domain":["s","d"],"range":[3,2.2]},"legend":null}}},
{"data":{"name":"pts"},"transform":[{"filter":"datum.p==='a1'"}],"mark":{"type":"point","filled":true,"size":78,"opacity":1},"encoding":{"x":{"field":"x","type":"quantitative","scale":{"domain":[2006,2022],"nice":false,"zero":false},"axis":{"values":[2006,2008,2010,2012,2014,2016,2018,2020,2022],"format":"d","title":null,"labelOverlap":false,"labelAngle":-60,"labelFontSize":17}},"y":{"field":"y","type":"quantitative","scale":{"domain":[0,20],"nice":false},"axis":{"values":[0,5,10,15,20],"format":".2f","title":"SMR (Total)","titlePadding":25}},"color":{"field":"s","type":"nominal","scale":{"domain":["B","R"],"range":["#0000ff","#ff0000"]},"legend":null}}}
]},
{"width":230,"height":301,"title":{"text":"(a2)","dx":-76},"layer":[
{"data":{"name":"mks"},"transform":[{"filter":"datum.p==='a2' && datum.d==='s'"}],"mark":{"type":"rule","color":"#000","strokeWidth":2},"encoding":{"x":{"field":"x","type":"quantitative","scale":{"domain":[2006,2022],"nice":false,"zero":false},"axis":{"values":[2006,2008,2010,2012,2014,2016,2018,2020,2022],"format":"d","title":null,"labelOverlap":false,"labelAngle":-60,"labelFontSize":17}},"y":{"field":"h","type":"quantitative"},"y2":{"datum":0}}},
{"data":{"name":"mks"},"transform":[{"filter":"datum.p==='a2' && datum.d==='d'"}],"mark":{"type":"rule","color":"#000","strokeWidth":2,"strokeDash":[4,3]},"encoding":{"x":{"field":"x","type":"quantitative","scale":{"domain":[2006,2022],"nice":false,"zero":false},"axis":{"values":[2006,2008,2010,2012,2014,2016,2018,2020,2022],"format":"d","title":null,"labelOverlap":false,"labelAngle":-60,"labelFontSize":17}},"y":{"field":"h","type":"quantitative"},"y2":{"datum":0}}},
{"data":{"name":"lns"},"transform":[{"filter":"datum.p==='a2'"}],"mark":{"type":"line"},"encoding":{"x":{"field":"x","type":"quantitative","scale":{"domain":[2006,2022],"nice":false,"zero":false},"axis":{"values":[2006,2008,2010,2012,2014,2016,2018,2020,2022],"format":"d","title":null,"labelOverlap":false,"labelAngle":-60,"labelFontSize":17}},"y":{"field":"y","type":"quantitative"},"color":{"field":"s","type":"nominal","scale":{"domain":["B","R"],"range":["#0000ff","#ff0000"]},"legend":null},"detail":{"field":"g","type":"nominal"},"order":{"field":"o","type":"quantitative"},"strokeDash":{"field":"d","type":"nominal","scale":{"domain":["s","d"],"range":[[1,0],[7,4]]},"legend":null},"strokeWidth":{"field":"d","type":"ordinal","scale":{"domain":["s","d"],"range":[3,2.2]},"legend":null}}},
{"data":{"name":"pts"},"transform":[{"filter":"datum.p==='a2'"}],"mark":{"type":"point","filled":true,"size":78,"opacity":1},"encoding":{"x":{"field":"x","type":"quantitative","scale":{"domain":[2006,2022],"nice":false,"zero":false},"axis":{"values":[2006,2008,2010,2012,2014,2016,2018,2020,2022],"format":"d","title":null,"labelOverlap":false,"labelAngle":-60,"labelFontSize":17}},"y":{"field":"y","type":"quantitative","scale":{"domain":[0,30],"nice":false},"axis":{"values":[0,10,20,30],"format":".2f","title":null}},"color":{"field":"s","type":"nominal","scale":{"domain":["B","R"],"range":["#0000ff","#ff0000"]},"legend":null}}}
]},
{"width":230,"height":301,"title":{"text":"(a3)","dx":-76},"layer":[
{"data":{"name":"mks"},"transform":[{"filter":"datum.p==='a3' && datum.d==='s'"}],"mark":{"type":"rule","color":"#000","strokeWidth":2},"encoding":{"x":{"field":"x","type":"quantitative","scale":{"domain":[2006,2022],"nice":false,"zero":false},"axis":{"values":[2006,2008,2010,2012,2014,2016,2018,2020,2022],"format":"d","title":null,"labelOverlap":false,"labelAngle":-60,"labelFontSize":17}},"y":{"field":"h","type":"quantitative"},"y2":{"datum":0}}},
{"data":{"name":"mks"},"transform":[{"filter":"datum.p==='a3' && datum.d==='d'"}],"mark":{"type":"rule","color":"#000","strokeWidth":2,"strokeDash":[4,3]},"encoding":{"x":{"field":"x","type":"quantitative","scale":{"domain":[2006,2022],"nice":false,"zero":false},"axis":{"values":[2006,2008,2010,2012,2014,2016,2018,2020,2022],"format":"d","title":null,"labelOverlap":false,"labelAngle":-60,"labelFontSize":17}},"y":{"field":"h","type":"quantitative"},"y2":{"datum":0}}},
{"data":{"name":"lns"},"transform":[{"filter":"datum.p==='a3'"}],"mark":{"type":"line"},"encoding":{"x":{"field":"x","type":"quantitative","scale":{"domain":[2006,2022],"nice":false,"zero":false},"axis":{"values":[2006,2008,2010,2012,2014,2016,2018,2020,2022],"format":"d","title":null,"labelOverlap":false,"labelAngle":-60,"labelFontSize":17}},"y":{"field":"y","type":"quantitative"},"color":{"field":"s","type":"nominal","scale":{"domain":["B","R"],"range":["#0000ff","#ff0000"]},"legend":null},"detail":{"field":"g","type":"nominal"},"order":{"field":"o","type":"quantitative"},"strokeDash":{"field":"d","type":"nominal","scale":{"domain":["s","d"],"range":[[1,0],[7,4]]},"legend":null},"strokeWidth":{"field":"d","type":"ordinal","scale":{"domain":["s","d"],"range":[3,2.2]},"legend":null}}},
{"data":{"name":"pts"},"transform":[{"filter":"datum.p==='a3'"}],"mark":{"type":"point","filled":true,"size":78,"opacity":1},"encoding":{"x":{"field":"x","type":"quantitative","scale":{"domain":[2006,2022],"nice":false,"zero":false},"axis":{"values":[2006,2008,2010,2012,2014,2016,2018,2020,2022],"format":"d","title":null,"labelOverlap":false,"labelAngle":-60,"labelFontSize":17}},"y":{"field":"y","type":"quantitative","scale":{"domain":[0,40],"nice":false},"axis":{"values":[0,10,20,30,40],"format":".2f","title":null}},"color":{"field":"s","type":"nominal","scale":{"domain":["B","R"],"range":["#0000ff","#ff0000"]},"legend":null}}}
]},
{"width":1,"height":301,"data":{"values":[{"k":1}]},"mark":{"type":"point","opacity":0},"encoding":{}},
{"width":236,"height":301,"title":{"text":"(d1)","dx":-109},"layer":[
{"data":{"name":"mks"},"transform":[{"filter":"datum.p==='d1' && datum.d==='s'"}],"mark":{"type":"rule","color":"#000","strokeWidth":2},"encoding":{"x":{"field":"x","type":"quantitative","scale":{"domain":[2006,2022],"nice":false,"zero":false},"axis":{"values":[2006,2008,2010,2012,2014,2016,2018,2020,2022],"format":"d","title":null,"labelOverlap":false,"labelAngle":-60,"labelFontSize":17}},"y":{"field":"h","type":"quantitative"},"y2":{"datum":0}}},
{"data":{"name":"mks"},"transform":[{"filter":"datum.p==='d1' && datum.d==='d'"}],"mark":{"type":"rule","color":"#000","strokeWidth":2,"strokeDash":[4,3]},"encoding":{"x":{"field":"x","type":"quantitative","scale":{"domain":[2006,2022],"nice":false,"zero":false},"axis":{"values":[2006,2008,2010,2012,2014,2016,2018,2020,2022],"format":"d","title":null,"labelOverlap":false,"labelAngle":-60,"labelFontSize":17}},"y":{"field":"h","type":"quantitative"},"y2":{"datum":0}}},
{"data":{"name":"lns"},"transform":[{"filter":"datum.p==='d1'"}],"mark":{"type":"line"},"encoding":{"x":{"field":"x","type":"quantitative","scale":{"domain":[2006,2022],"nice":false,"zero":false},"axis":{"values":[2006,2008,2010,2012,2014,2016,2018,2020,2022],"format":"d","title":null,"labelOverlap":false,"labelAngle":-60,"labelFontSize":17}},"y":{"field":"y","type":"quantitative"},"color":{"field":"s","type":"nominal","scale":{"domain":["B","R"],"range":["#0000ff","#ff0000"]},"legend":null},"detail":{"field":"g","type":"nominal"},"order":{"field":"o","type":"quantitative"},"strokeDash":{"field":"d","type":"nominal","scale":{"domain":["s","d"],"range":[[1,0],[7,4]]},"legend":null},"strokeWidth":{"field":"d","type":"ordinal","scale":{"domain":["s","d"],"range":[3,2.2]},"legend":null}}},
{"data":{"name":"pts"},"transform":[{"filter":"datum.p==='d1'"}],"mark":{"type":"point","filled":true,"size":78,"opacity":1},"encoding":{"x":{"field":"x","type":"quantitative","scale":{"domain":[2006,2022],"nice":false,"zero":false},"axis":{"values":[2006,2008,2010,2012,2014,2016,2018,2020,2022],"format":"d","title":null,"labelOverlap":false,"labelAngle":-60,"labelFontSize":17}},"y":{"field":"y","type":"quantitative","scale":{"domain":[0,0.5],"nice":false},"axis":{"values":[0,0.1,0.2,0.3,0.4,0.5],"format":".2f","title":"SMR (Economic)","titlePadding":18}},"color":{"field":"s","type":"nominal","scale":{"domain":["B","R"],"range":["#0000ff","#ff0000"]},"legend":null}}}
]},
{"width":236,"height":301,"title":{"text":"(d2)","dx":-70},"layer":[
{"data":{"name":"mks"},"transform":[{"filter":"datum.p==='d2' && datum.d==='s'"}],"mark":{"type":"rule","color":"#000","strokeWidth":2},"encoding":{"x":{"field":"x","type":"quantitative","scale":{"domain":[2006,2022],"nice":false,"zero":false},"axis":{"values":[2006,2008,2010,2012,2014,2016,2018,2020,2022],"format":"d","title":null,"labelOverlap":false,"labelAngle":-60,"labelFontSize":17}},"y":{"field":"h","type":"quantitative"},"y2":{"datum":0}}},
{"data":{"name":"mks"},"transform":[{"filter":"datum.p==='d2' && datum.d==='d'"}],"mark":{"type":"rule","color":"#000","strokeWidth":2,"strokeDash":[4,3]},"encoding":{"x":{"field":"x","type":"quantitative","scale":{"domain":[2006,2022],"nice":false,"zero":false},"axis":{"values":[2006,2008,2010,2012,2014,2016,2018,2020,2022],"format":"d","title":null,"labelOverlap":false,"labelAngle":-60,"labelFontSize":17}},"y":{"field":"h","type":"quantitative"},"y2":{"datum":0}}},
{"data":{"name":"lns"},"transform":[{"filter":"datum.p==='d2'"}],"mark":{"type":"line"},"encoding":{"x":{"field":"x","type":"quantitative","scale":{"domain":[2006,2022],"nice":false,"zero":false},"axis":{"values":[2006,2008,2010,2012,2014,2016,2018,2020,2022],"format":"d","title":null,"labelOverlap":false,"labelAngle":-60,"labelFontSize":17}},"y":{"field":"y","type":"quantitative"},"color":{"field":"s","type":"nominal","scale":{"domain":["B","R"],"range":["#0000ff","#ff0000"]},"legend":null},"detail":{"field":"g","type":"nominal"},"order":{"field":"o","type":"quantitative"},"strokeDash":{"field":"d","type":"nominal","scale":{"domain":["s","d"],"range":[[1,0],[7,4]]},"legend":null},"strokeWidth":{"field":"d","type":"ordinal","scale":{"domain":["s","d"],"range":[3,2.2]},"legend":null}}},
{"data":{"name":"pts"},"transform":[{"filter":"datum.p==='d2'"}],"mark":{"type":"point","filled":true,"size":78,"opacity":1},"encoding":{"x":{"field":"x","type":"quantitative","scale":{"domain":[2006,2022],"nice":false,"zero":false},"axis":{"values":[2006,2008,2010,2012,2014,2016,2018,2020,2022],"format":"d","title":null,"labelOverlap":false,"labelAngle":-60,"labelFontSize":17}},"y":{"field":"y","type":"quantitative","scale":{"domain":[0,5],"nice":false},"axis":{"values":[0,1,2,3,4,5],"format":".2f","title":null}},"color":{"field":"s","type":"nominal","scale":{"domain":["B","R"],"range":["#0000ff","#ff0000"]},"legend":null}}}
]},
{"width":236,"height":301,"title":{"text":"(d3)","dx":-70},"layer":[
{"data":{"name":"mks"},"transform":[{"filter":"datum.p==='d3' && datum.d==='s'"}],"mark":{"type":"rule","color":"#000","strokeWidth":2},"encoding":{"x":{"field":"x","type":"quantitative","scale":{"domain":[2006,2022],"nice":false,"zero":false},"axis":{"values":[2006,2008,2010,2012,2014,2016,2018,2020,2022],"format":"d","title":null,"labelOverlap":false,"labelAngle":-60,"labelFontSize":17}},"y":{"field":"h","type":"quantitative"},"y2":{"datum":0}}},
{"data":{"name":"mks"},"transform":[{"filter":"datum.p==='d3' && datum.d==='d'"}],"mark":{"type":"rule","color":"#000","strokeWidth":2,"strokeDash":[4,3]},"encoding":{"x":{"field":"x","type":"quantitative","scale":{"domain":[2006,2022],"nice":false,"zero":false},"axis":{"values":[2006,2008,2010,2012,2014,2016,2018,2020,2022],"format":"d","title":null,"labelOverlap":false,"labelAngle":-60,"labelFontSize":17}},"y":{"field":"h","type":"quantitative"},"y2":{"datum":0}}},
{"data":{"name":"lns"},"transform":[{"filter":"datum.p==='d3'"}],"mark":{"type":"line"},"encoding":{"x":{"field":"x","type":"quantitative","scale":{"domain":[2006,2022],"nice":false,"zero":false},"axis":{"values":[2006,2008,2010,2012,2014,2016,2018,2020,2022],"format":"d","title":null,"labelOverlap":false,"labelAngle":-60,"labelFontSize":17}},"y":{"field":"y","type":"quantitative"},"color":{"field":"s","type":"nominal","scale":{"domain":["B","R"],"range":["#0000ff","#ff0000"]},"legend":null},"detail":{"field":"g","type":"nominal"},"order":{"field":"o","type":"quantitative"},"strokeDash":{"field":"d","type":"nominal","scale":{"domain":["s","d"],"range":[[1,0],[7,4]]},"legend":null},"strokeWidth":{"field":"d","type":"ordinal","scale":{"domain":["s","d"],"range":[3,2.2]},"legend":null}}},
{"data":{"name":"pts"},"transform":[{"filter":"datum.p==='d3'"}],"mark":{"type":"point","filled":true,"size":78,"opacity":1},"encoding":{"x":{"field":"x","type":"quantitative","scale":{"domain":[2006,2022],"nice":false,"zero":false},"axis":{"values":[2006,2008,2010,2012,2014,2016,2018,2020,2022],"format":"d","title":null,"labelOverlap":false,"labelAngle":-60,"labelFontSize":17}},"y":{"field":"y","type":"quantitative","scale":{"domain":[0,5],"nice":false},"axis":{"values":[0,1,2,3,4,5],"format":".2f","title":null}},"color":{"field":"s","type":"nominal","scale":{"domain":["B","R"],"range":["#0000ff","#ff0000"]},"legend":null}}}
]},
{"width":230,"height":301,"title":{"text":"(b1)","dx":-115},"layer":[
{"data":{"name":"mks"},"transform":[{"filter":"datum.p==='b1' && datum.d==='s'"}],"mark":{"type":"rule","color":"#000","strokeWidth":2},"encoding":{"x":{"field":"x","type":"quantitative","scale":{"domain":[2006,2022],"nice":false,"zero":false},"axis":{"values":[2006,2008,2010,2012,2014,2016,2018,2020,2022],"format":"d","title":null,"labelOverlap":false,"labelAngle":-60,"labelFontSize":17}},"y":{"field":"h","type":"quantitative"},"y2":{"datum":0}}},
{"data":{"name":"mks"},"transform":[{"filter":"datum.p==='b1' && datum.d==='d'"}],"mark":{"type":"rule","color":"#000","strokeWidth":2,"strokeDash":[4,3]},"encoding":{"x":{"field":"x","type":"quantitative","scale":{"domain":[2006,2022],"nice":false,"zero":false},"axis":{"values":[2006,2008,2010,2012,2014,2016,2018,2020,2022],"format":"d","title":null,"labelOverlap":false,"labelAngle":-60,"labelFontSize":17}},"y":{"field":"h","type":"quantitative"},"y2":{"datum":0}}},
{"data":{"name":"lns"},"transform":[{"filter":"datum.p==='b1'"}],"mark":{"type":"line"},"encoding":{"x":{"field":"x","type":"quantitative","scale":{"domain":[2006,2022],"nice":false,"zero":false},"axis":{"values":[2006,2008,2010,2012,2014,2016,2018,2020,2022],"format":"d","title":null,"labelOverlap":false,"labelAngle":-60,"labelFontSize":17}},"y":{"field":"y","type":"quantitative"},"color":{"field":"s","type":"nominal","scale":{"domain":["B","R"],"range":["#0000ff","#ff0000"]},"legend":null},"detail":{"field":"g","type":"nominal"},"order":{"field":"o","type":"quantitative"},"strokeDash":{"field":"d","type":"nominal","scale":{"domain":["s","d"],"range":[[1,0],[7,4]]},"legend":null},"strokeWidth":{"field":"d","type":"ordinal","scale":{"domain":["s","d"],"range":[3,2.2]},"legend":null}}},
{"data":{"name":"pts"},"transform":[{"filter":"datum.p==='b1'"}],"mark":{"type":"point","filled":true,"size":78,"opacity":1},"encoding":{"x":{"field":"x","type":"quantitative","scale":{"domain":[2006,2022],"nice":false,"zero":false},"axis":{"values":[2006,2008,2010,2012,2014,2016,2018,2020,2022],"format":"d","title":null,"labelOverlap":false,"labelAngle":-60,"labelFontSize":17}},"y":{"field":"y","type":"quantitative","scale":{"domain":[0,3],"nice":false},"axis":{"values":[0,1,2,3],"format":".2f","title":"SMR (Family)","titlePadding":25}},"color":{"field":"s","type":"nominal","scale":{"domain":["B","R"],"range":["#0000ff","#ff0000"]},"legend":null}}}
]},
{"width":230,"height":301,"title":{"text":"(b2)","dx":-76},"layer":[
{"data":{"name":"mks"},"transform":[{"filter":"datum.p==='b2' && datum.d==='s'"}],"mark":{"type":"rule","color":"#000","strokeWidth":2},"encoding":{"x":{"field":"x","type":"quantitative","scale":{"domain":[2006,2022],"nice":false,"zero":false},"axis":{"values":[2006,2008,2010,2012,2014,2016,2018,2020,2022],"format":"d","title":null,"labelOverlap":false,"labelAngle":-60,"labelFontSize":17}},"y":{"field":"h","type":"quantitative"},"y2":{"datum":0}}},
{"data":{"name":"mks"},"transform":[{"filter":"datum.p==='b2' && datum.d==='d'"}],"mark":{"type":"rule","color":"#000","strokeWidth":2,"strokeDash":[4,3]},"encoding":{"x":{"field":"x","type":"quantitative","scale":{"domain":[2006,2022],"nice":false,"zero":false},"axis":{"values":[2006,2008,2010,2012,2014,2016,2018,2020,2022],"format":"d","title":null,"labelOverlap":false,"labelAngle":-60,"labelFontSize":17}},"y":{"field":"h","type":"quantitative"},"y2":{"datum":0}}},
{"data":{"name":"lns"},"transform":[{"filter":"datum.p==='b2'"}],"mark":{"type":"line"},"encoding":{"x":{"field":"x","type":"quantitative","scale":{"domain":[2006,2022],"nice":false,"zero":false},"axis":{"values":[2006,2008,2010,2012,2014,2016,2018,2020,2022],"format":"d","title":null,"labelOverlap":false,"labelAngle":-60,"labelFontSize":17}},"y":{"field":"y","type":"quantitative"},"color":{"field":"s","type":"nominal","scale":{"domain":["B","R"],"range":["#0000ff","#ff0000"]},"legend":null},"detail":{"field":"g","type":"nominal"},"order":{"field":"o","type":"quantitative"},"strokeDash":{"field":"d","type":"nominal","scale":{"domain":["s","d"],"range":[[1,0],[7,4]]},"legend":null},"strokeWidth":{"field":"d","type":"ordinal","scale":{"domain":["s","d"],"range":[3,2.2]},"legend":null}}},
{"data":{"name":"pts"},"transform":[{"filter":"datum.p==='b2'"}],"mark":{"type":"point","filled":true,"size":78,"opacity":1},"encoding":{"x":{"field":"x","type":"quantitative","scale":{"domain":[2006,2022],"nice":false,"zero":false},"axis":{"values":[2006,2008,2010,2012,2014,2016,2018,2020,2022],"format":"d","title":null,"labelOverlap":false,"labelAngle":-60,"labelFontSize":17}},"y":{"field":"y","type":"quantitative","scale":{"domain":[0,3],"nice":false},"axis":{"values":[0,1,2,3],"format":".2f","title":null}},"color":{"field":"s","type":"nominal","scale":{"domain":["B","R"],"range":["#0000ff","#ff0000"]},"legend":null}}}
]},
{"width":230,"height":301,"title":{"text":"(b3)","dx":-76},"layer":[
{"data":{"name":"mks"},"transform":[{"filter":"datum.p==='b3' && datum.d==='s'"}],"mark":{"type":"rule","color":"#000","strokeWidth":2},"encoding":{"x":{"field":"x","type":"quantitative","scale":{"domain":[2006,2022],"nice":false,"zero":false},"axis":{"values":[2006,2008,2010,2012,2014,2016,2018,2020,2022],"format":"d","title":null,"labelOverlap":false,"labelAngle":-60,"labelFontSize":17}},"y":{"field":"h","type":"quantitative"},"y2":{"datum":0}}},
{"data":{"name":"mks"},"transform":[{"filter":"datum.p==='b3' && datum.d==='d'"}],"mark":{"type":"rule","color":"#000","strokeWidth":2,"strokeDash":[4,3]},"encoding":{"x":{"field":"x","type":"quantitative","scale":{"domain":[2006,2022],"nice":false,"zero":false},"axis":{"values":[2006,2008,2010,2012,2014,2016,2018,2020,2022],"format":"d","title":null,"labelOverlap":false,"labelAngle":-60,"labelFontSize":17}},"y":{"field":"h","type":"quantitative"},"y2":{"datum":0}}},
{"data":{"name":"lns"},"transform":[{"filter":"datum.p==='b3'"}],"mark":{"type":"line"},"encoding":{"x":{"field":"x","type":"quantitative","scale":{"domain":[2006,2022],"nice":false,"zero":false},"axis":{"values":[2006,2008,2010,2012,2014,2016,2018,2020,2022],"format":"d","title":null,"labelOverlap":false,"labelAngle":-60,"labelFontSize":17}},"y":{"field":"y","type":"quantitative"},"color":{"field":"s","type":"nominal","scale":{"domain":["B","R"],"range":["#0000ff","#ff0000"]},"legend":null},"detail":{"field":"g","type":"nominal"},"order":{"field":"o","type":"quantitative"},"strokeDash":{"field":"d","type":"nominal","scale":{"domain":["s","d"],"range":[[1,0],[7,4]]},"legend":null},"strokeWidth":{"field":"d","type":"ordinal","scale":{"domain":["s","d"],"range":[3,2.2]},"legend":null}}},
{"data":{"name":"pts"},"transform":[{"filter":"datum.p==='b3'"}],"mark":{"type":"point","filled":true,"size":78,"opacity":1},"encoding":{"x":{"field":"x","type":"quantitative","scale":{"domain":[2006,2022],"nice":false,"zero":false},"axis":{"values":[2006,2008,2010,2012,2014,2016,2018,2020,2022],"format":"d","title":null,"labelOverlap":false,"labelAngle":-60,"labelFontSize":17}},"y":{"field":"y","type":"quantitative","scale":{"domain":[0,4],"nice":false},"axis":{"values":[0,1,2,3,4],"format":".2f","title":null}},"color":{"field":"s","type":"nominal","scale":{"domain":["B","R"],"range":["#0000ff","#ff0000"]},"legend":null}}}
]},
{"width":1,"height":301,"data":{"values":[{"k":1}]},"mark":{"type":"point","opacity":0},"encoding":{}},
{"width":236,"height":301,"title":{"text":"(e1)","dx":-109},"layer":[
{"data":{"name":"mks"},"transform":[{"filter":"datum.p==='e1' && datum.d==='s'"}],"mark":{"type":"rule","color":"#000","strokeWidth":2},"encoding":{"x":{"field":"x","type":"quantitative","scale":{"domain":[2006,2022],"nice":false,"zero":false},"axis":{"values":[2006,2008,2010,2012,2014,2016,2018,2020,2022],"format":"d","title":null,"labelOverlap":false,"labelAngle":-60,"labelFontSize":17}},"y":{"field":"h","type":"quantitative"},"y2":{"datum":0}}},
{"data":{"name":"mks"},"transform":[{"filter":"datum.p==='e1' && datum.d==='d'"}],"mark":{"type":"rule","color":"#000","strokeWidth":2,"strokeDash":[4,3]},"encoding":{"x":{"field":"x","type":"quantitative","scale":{"domain":[2006,2022],"nice":false,"zero":false},"axis":{"values":[2006,2008,2010,2012,2014,2016,2018,2020,2022],"format":"d","title":null,"labelOverlap":false,"labelAngle":-60,"labelFontSize":17}},"y":{"field":"h","type":"quantitative"},"y2":{"datum":0}}},
{"data":{"name":"lns"},"transform":[{"filter":"datum.p==='e1'"}],"mark":{"type":"line"},"encoding":{"x":{"field":"x","type":"quantitative","scale":{"domain":[2006,2022],"nice":false,"zero":false},"axis":{"values":[2006,2008,2010,2012,2014,2016,2018,2020,2022],"format":"d","title":null,"labelOverlap":false,"labelAngle":-60,"labelFontSize":17}},"y":{"field":"y","type":"quantitative"},"color":{"field":"s","type":"nominal","scale":{"domain":["B","R"],"range":["#0000ff","#ff0000"]},"legend":null},"detail":{"field":"g","type":"nominal"},"order":{"field":"o","type":"quantitative"},"strokeDash":{"field":"d","type":"nominal","scale":{"domain":["s","d"],"range":[[1,0],[7,4]]},"legend":null},"strokeWidth":{"field":"d","type":"ordinal","scale":{"domain":["s","d"],"range":[3,2.2]},"legend":null}}},
{"data":{"name":"pts"},"transform":[{"filter":"datum.p==='e1'"}],"mark":{"type":"point","filled":true,"size":78,"opacity":1},"encoding":{"x":{"field":"x","type":"quantitative","scale":{"domain":[2006,2022],"nice":false,"zero":false},"axis":{"values":[2006,2008,2010,2012,2014,2016,2018,2020,2022],"format":"d","title":null,"labelOverlap":false,"labelAngle":-60,"labelFontSize":17}},"y":{"field":"y","type":"quantitative","scale":{"domain":[0,1.5],"nice":false},"axis":{"values":[0,0.5,1,1.5],"format":".2f","title":"SMR (Romance)","titlePadding":18}},"color":{"field":"s","type":"nominal","scale":{"domain":["B","R"],"range":["#0000ff","#ff0000"]},"legend":null}}}
]},
{"width":236,"height":301,"title":{"text":"(e2)","dx":-70},"layer":[
{"data":{"name":"mks"},"transform":[{"filter":"datum.p==='e2' && datum.d==='s'"}],"mark":{"type":"rule","color":"#000","strokeWidth":2},"encoding":{"x":{"field":"x","type":"quantitative","scale":{"domain":[2006,2022],"nice":false,"zero":false},"axis":{"values":[2006,2008,2010,2012,2014,2016,2018,2020,2022],"format":"d","title":null,"labelOverlap":false,"labelAngle":-60,"labelFontSize":17}},"y":{"field":"h","type":"quantitative"},"y2":{"datum":0}}},
{"data":{"name":"mks"},"transform":[{"filter":"datum.p==='e2' && datum.d==='d'"}],"mark":{"type":"rule","color":"#000","strokeWidth":2,"strokeDash":[4,3]},"encoding":{"x":{"field":"x","type":"quantitative","scale":{"domain":[2006,2022],"nice":false,"zero":false},"axis":{"values":[2006,2008,2010,2012,2014,2016,2018,2020,2022],"format":"d","title":null,"labelOverlap":false,"labelAngle":-60,"labelFontSize":17}},"y":{"field":"h","type":"quantitative"},"y2":{"datum":0}}},
{"data":{"name":"lns"},"transform":[{"filter":"datum.p==='e2'"}],"mark":{"type":"line"},"encoding":{"x":{"field":"x","type":"quantitative","scale":{"domain":[2006,2022],"nice":false,"zero":false},"axis":{"values":[2006,2008,2010,2012,2014,2016,2018,2020,2022],"format":"d","title":null,"labelOverlap":false,"labelAngle":-60,"labelFontSize":17}},"y":{"field":"y","type":"quantitative"},"color":{"field":"s","type":"nominal","scale":{"domain":["B","R"],"range":["#0000ff","#ff0000"]},"legend":null},"detail":{"field":"g","type":"nominal"},"order":{"field":"o","type":"quantitative"},"strokeDash":{"field":"d","type":"nominal","scale":{"domain":["s","d"],"range":[[1,0],[7,4]]},"legend":null},"strokeWidth":{"field":"d","type":"ordinal","scale":{"domain":["s","d"],"range":[3,2.2]},"legend":null}}},
{"data":{"name":"pts"},"transform":[{"filter":"datum.p==='e2'"}],"mark":{"type":"point","filled":true,"size":78,"opacity":1},"encoding":{"x":{"field":"x","type":"quantitative","scale":{"domain":[2006,2022],"nice":false,"zero":false},"axis":{"values":[2006,2008,2010,2012,2014,2016,2018,2020,2022],"format":"d","title":null,"labelOverlap":false,"labelAngle":-60,"labelFontSize":17}},"y":{"field":"y","type":"quantitative","scale":{"domain":[0,2.5],"nice":false},"axis":{"values":[0,0.5,1,1.5,2,2.5],"format":".2f","title":null}},"color":{"field":"s","type":"nominal","scale":{"domain":["B","R"],"range":["#0000ff","#ff0000"]},"legend":null}}}
]},
{"width":236,"height":301,"title":{"text":"(e3)","dx":-70},"layer":[
{"data":{"name":"mks"},"transform":[{"filter":"datum.p==='e3' && datum.d==='s'"}],"mark":{"type":"rule","color":"#000","strokeWidth":2},"encoding":{"x":{"field":"x","type":"quantitative","scale":{"domain":[2006,2022],"nice":false,"zero":false},"axis":{"values":[2006,2008,2010,2012,2014,2016,2018,2020,2022],"format":"d","title":null,"labelOverlap":false,"labelAngle":-60,"labelFontSize":17}},"y":{"field":"h","type":"quantitative"},"y2":{"datum":0}}},
{"data":{"name":"mks"},"transform":[{"filter":"datum.p==='e3' && datum.d==='d'"}],"mark":{"type":"rule","color":"#000","strokeWidth":2,"strokeDash":[4,3]},"encoding":{"x":{"field":"x","type":"quantitative","scale":{"domain":[2006,2022],"nice":false,"zero":false},"axis":{"values":[2006,2008,2010,2012,2014,2016,2018,2020,2022],"format":"d","title":null,"labelOverlap":false,"labelAngle":-60,"labelFontSize":17}},"y":{"field":"h","type":"quantitative"},"y2":{"datum":0}}},
{"data":{"name":"lns"},"transform":[{"filter":"datum.p==='e3'"}],"mark":{"type":"line"},"encoding":{"x":{"field":"x","type":"quantitative","scale":{"domain":[2006,2022],"nice":false,"zero":false},"axis":{"values":[2006,2008,2010,2012,2014,2016,2018,2020,2022],"format":"d","title":null,"labelOverlap":false,"labelAngle":-60,"labelFontSize":17}},"y":{"field":"y","type":"quantitative"},"color":{"field":"s","type":"nominal","scale":{"domain":["B","R"],"range":["#0000ff","#ff0000"]},"legend":null},"detail":{"field":"g","type":"nominal"},"order":{"field":"o","type":"quantitative"},"strokeDash":{"field":"d","type":"nominal","scale":{"domain":["s","d"],"range":[[1,0],[7,4]]},"legend":null},"strokeWidth":{"field":"d","type":"ordinal","scale":{"domain":["s","d"],"range":[3,2.2]},"legend":null}}},
{"data":{"name":"pts"},"transform":[{"filter":"datum.p==='e3'"}],"mark":{"type":"point","filled":true,"size":78,"opacity":1},"encoding":{"x":{"field":"x","type":"quantitative","scale":{"domain":[2006,2022],"nice":false,"zero":false},"axis":{"values":[2006,2008,2010,2012,2014,2016,2018,2020,2022],"format":"d","title":null,"labelOverlap":false,"labelAngle":-60,"labelFontSize":17}},"y":{"field":"y","type":"quantitative","scale":{"domain":[0,5],"nice":false},"axis":{"values":[0,1,2,3,4,5],"format":".2f","title":null}},"color":{"field":"s","type":"nominal","scale":{"domain":["B","R"],"range":["#0000ff","#ff0000"]},"legend":null}}}
]},
{"width":230,"height":301,"title":{"text":"(c1)","dx":-115},"layer":[
{"data":{"name":"mks"},"transform":[{"filter":"datum.p==='c1' && datum.d==='s'"}],"mark":{"type":"rule","color":"#000","strokeWidth":2},"encoding":{"x":{"field":"x","type":"quantitative","scale":{"domain":[2006,2022],"nice":false,"zero":false},"axis":{"values":[2006,2008,2010,2012,2014,2016,2018,2020,2022],"format":"d","title":null,"labelOverlap":false,"labelAngle":-60,"labelFontSize":17}},"y":{"field":"h","type":"quantitative"},"y2":{"datum":0}}},
{"data":{"name":"mks"},"transform":[{"filter":"datum.p==='c1' && datum.d==='d'"}],"mark":{"type":"rule","color":"#000","strokeWidth":2,"strokeDash":[4,3]},"encoding":{"x":{"field":"x","type":"quantitative","scale":{"domain":[2006,2022],"nice":false,"zero":false},"axis":{"values":[2006,2008,2010,2012,2014,2016,2018,2020,2022],"format":"d","title":null,"labelOverlap":false,"labelAngle":-60,"labelFontSize":17}},"y":{"field":"h","type":"quantitative"},"y2":{"datum":0}}},
{"data":{"name":"lns"},"transform":[{"filter":"datum.p==='c1'"}],"mark":{"type":"line"},"encoding":{"x":{"field":"x","type":"quantitative","scale":{"domain":[2006,2022],"nice":false,"zero":false},"axis":{"values":[2006,2008,2010,2012,2014,2016,2018,2020,2022],"format":"d","title":null,"labelOverlap":false,"labelAngle":-60,"labelFontSize":17}},"y":{"field":"y","type":"quantitative"},"color":{"field":"s","type":"nominal","scale":{"domain":["B","R"],"range":["#0000ff","#ff0000"]},"legend":null},"detail":{"field":"g","type":"nominal"},"order":{"field":"o","type":"quantitative"},"strokeDash":{"field":"d","type":"nominal","scale":{"domain":["s","d"],"range":[[1,0],[7,4]]},"legend":null},"strokeWidth":{"field":"d","type":"ordinal","scale":{"domain":["s","d"],"range":[3,2.2]},"legend":null}}},
{"data":{"name":"pts"},"transform":[{"filter":"datum.p==='c1'"}],"mark":{"type":"point","filled":true,"size":78,"opacity":1},"encoding":{"x":{"field":"x","type":"quantitative","scale":{"domain":[2006,2022],"nice":false,"zero":false},"axis":{"values":[2006,2008,2010,2012,2014,2016,2018,2020,2022],"format":"d","title":null,"labelOverlap":false,"labelAngle":-60,"labelFontSize":17}},"y":{"field":"y","type":"quantitative","scale":{"domain":[0,5],"nice":false},"axis":{"values":[0,1,2,3,4,5],"format":".2f","title":"SMR (Health)","titlePadding":25}},"color":{"field":"s","type":"nominal","scale":{"domain":["B","R"],"range":["#0000ff","#ff0000"]},"legend":null}}}
]},
{"width":230,"height":301,"title":{"text":"(c2)","dx":-76},"layer":[
{"data":{"name":"mks"},"transform":[{"filter":"datum.p==='c2' && datum.d==='s'"}],"mark":{"type":"rule","color":"#000","strokeWidth":2},"encoding":{"x":{"field":"x","type":"quantitative","scale":{"domain":[2006,2022],"nice":false,"zero":false},"axis":{"values":[2006,2008,2010,2012,2014,2016,2018,2020,2022],"format":"d","title":null,"labelOverlap":false,"labelAngle":-60,"labelFontSize":17}},"y":{"field":"h","type":"quantitative"},"y2":{"datum":0}}},
{"data":{"name":"mks"},"transform":[{"filter":"datum.p==='c2' && datum.d==='d'"}],"mark":{"type":"rule","color":"#000","strokeWidth":2,"strokeDash":[4,3]},"encoding":{"x":{"field":"x","type":"quantitative","scale":{"domain":[2006,2022],"nice":false,"zero":false},"axis":{"values":[2006,2008,2010,2012,2014,2016,2018,2020,2022],"format":"d","title":null,"labelOverlap":false,"labelAngle":-60,"labelFontSize":17}},"y":{"field":"h","type":"quantitative"},"y2":{"datum":0}}},
{"data":{"name":"lns"},"transform":[{"filter":"datum.p==='c2'"}],"mark":{"type":"line"},"encoding":{"x":{"field":"x","type":"quantitative","scale":{"domain":[2006,2022],"nice":false,"zero":false},"axis":{"values":[2006,2008,2010,2012,2014,2016,2018,2020,2022],"format":"d","title":null,"labelOverlap":false,"labelAngle":-60,"labelFontSize":17}},"y":{"field":"y","type":"quantitative"},"color":{"field":"s","type":"nominal","scale":{"domain":["B","R"],"range":["#0000ff","#ff0000"]},"legend":null},"detail":{"field":"g","type":"nominal"},"order":{"field":"o","type":"quantitative"},"strokeDash":{"field":"d","type":"nominal","scale":{"domain":["s","d"],"range":[[1,0],[7,4]]},"legend":null},"strokeWidth":{"field":"d","type":"ordinal","scale":{"domain":["s","d"],"range":[3,2.2]},"legend":null}}},
{"data":{"name":"pts"},"transform":[{"filter":"datum.p==='c2'"}],"mark":{"type":"point","filled":true,"size":78,"opacity":1},"encoding":{"x":{"field":"x","type":"quantitative","scale":{"domain":[2006,2022],"nice":false,"zero":false},"axis":{"values":[2006,2008,2010,2012,2014,2016,2018,2020,2022],"format":"d","title":null,"labelOverlap":false,"labelAngle":-60,"labelFontSize":17}},"y":{"field":"y","type":"quantitative","scale":{"domain":[0,8],"nice":false},"axis":{"values":[0,2,4,6,8],"format":".2f","title":null}},"color":{"field":"s","type":"nominal","scale":{"domain":["B","R"],"range":["#0000ff","#ff0000"]},"legend":null}}}
]},
{"width":230,"height":301,"title":{"text":"(c3)","dx":-76},"layer":[
{"data":{"name":"mks"},"transform":[{"filter":"datum.p==='c3' && datum.d==='s'"}],"mark":{"type":"rule","color":"#000","strokeWidth":2},"encoding":{"x":{"field":"x","type":"quantitative","scale":{"domain":[2006,2022],"nice":false,"zero":false},"axis":{"values":[2006,2008,2010,2012,2014,2016,2018,2020,2022],"format":"d","title":null,"labelOverlap":false,"labelAngle":-60,"labelFontSize":17}},"y":{"field":"h","type":"quantitative"},"y2":{"datum":0}}},
{"data":{"name":"mks"},"transform":[{"filter":"datum.p==='c3' && datum.d==='d'"}],"mark":{"type":"rule","color":"#000","strokeWidth":2,"strokeDash":[4,3]},"encoding":{"x":{"field":"x","type":"quantitative","scale":{"domain":[2006,2022],"nice":false,"zero":false},"axis":{"values":[2006,2008,2010,2012,2014,2016,2018,2020,2022],"format":"d","title":null,"labelOverlap":false,"labelAngle":-60,"labelFontSize":17}},"y":{"field":"h","type":"quantitative"},"y2":{"datum":0}}},
{"data":{"name":"lns"},"transform":[{"filter":"datum.p==='c3'"}],"mark":{"type":"line"},"encoding":{"x":{"field":"x","type":"quantitative","scale":{"domain":[2006,2022],"nice":false,"zero":false},"axis":{"values":[2006,2008,2010,2012,2014,2016,2018,2020,2022],"format":"d","title":null,"labelOverlap":false,"labelAngle":-60,"labelFontSize":17}},"y":{"field":"y","type":"quantitative"},"color":{"field":"s","type":"nominal","scale":{"domain":["B","R"],"range":["#0000ff","#ff0000"]},"legend":null},"detail":{"field":"g","type":"nominal"},"order":{"field":"o","type":"quantitative"},"strokeDash":{"field":"d","type":"nominal","scale":{"domain":["s","d"],"range":[[1,0],[7,4]]},"legend":null},"strokeWidth":{"field":"d","type":"ordinal","scale":{"domain":["s","d"],"range":[3,2.2]},"legend":null}}},
{"data":{"name":"pts"},"transform":[{"filter":"datum.p==='c3'"}],"mark":{"type":"point","filled":true,"size":78,"opacity":1},"encoding":{"x":{"field":"x","type":"quantitative","scale":{"domain":[2006,2022],"nice":false,"zero":false},"axis":{"values":[2006,2008,2010,2012,2014,2016,2018,2020,2022],"format":"d","title":null,"labelOverlap":false,"labelAngle":-60,"labelFontSize":17}},"y":{"field":"y","type":"quantitative","scale":{"domain":[0,15],"nice":false},"axis":{"values":[0,5,10,15],"format":".2f","title":null}},"color":{"field":"s","type":"nominal","scale":{"domain":["B","R"],"range":["#0000ff","#ff0000"]},"legend":null}}}
]},
{"width":1,"height":301,"data":{"values":[{"k":1}]},"mark":{"type":"point","opacity":0},"encoding":{}},
{"width":236,"height":301,"title":{"text":"(f1)","dx":-109},"layer":[
{"data":{"name":"mks"},"transform":[{"filter":"datum.p==='f1' && datum.d==='s'"}],"mark":{"type":"rule","color":"#000","strokeWidth":2},"encoding":{"x":{"field":"x","type":"quantitative","scale":{"domain":[2006,2022],"nice":false,"zero":false},"axis":{"values":[2006,2008,2010,2012,2014,2016,2018,2020,2022],"format":"d","title":null,"labelOverlap":false,"labelAngle":-60,"labelFontSize":17}},"y":{"field":"h","type":"quantitative"},"y2":{"datum":0}}},
{"data":{"name":"mks"},"transform":[{"filter":"datum.p==='f1' && datum.d==='d'"}],"mark":{"type":"rule","color":"#000","strokeWidth":2,"strokeDash":[4,3]},"encoding":{"x":{"field":"x","type":"quantitative","scale":{"domain":[2006,2022],"nice":false,"zero":false},"axis":{"values":[2006,2008,2010,2012,2014,2016,2018,2020,2022],"format":"d","title":null,"labelOverlap":false,"labelAngle":-60,"labelFontSize":17}},"y":{"field":"h","type":"quantitative"},"y2":{"datum":0}}},
{"data":{"name":"lns"},"transform":[{"filter":"datum.p==='f1'"}],"mark":{"type":"line"},"encoding":{"x":{"field":"x","type":"quantitative","scale":{"domain":[2006,2022],"nice":false,"zero":false},"axis":{"values":[2006,2008,2010,2012,2014,2016,2018,2020,2022],"format":"d","title":null,"labelOverlap":false,"labelAngle":-60,"labelFontSize":17}},"y":{"field":"y","type":"quantitative"},"color":{"field":"s","type":"nominal","scale":{"domain":["B","R"],"range":["#0000ff","#ff0000"]},"legend":null},"detail":{"field":"g","type":"nominal"},"order":{"field":"o","type":"quantitative"},"strokeDash":{"field":"d","type":"nominal","scale":{"domain":["s","d"],"range":[[1,0],[7,4]]},"legend":null},"strokeWidth":{"field":"d","type":"ordinal","scale":{"domain":["s","d"],"range":[3,2.2]},"legend":null}}},
{"data":{"name":"pts"},"transform":[{"filter":"datum.p==='f1'"}],"mark":{"type":"point","filled":true,"size":78,"opacity":1},"encoding":{"x":{"field":"x","type":"quantitative","scale":{"domain":[2006,2022],"nice":false,"zero":false},"axis":{"values":[2006,2008,2010,2012,2014,2016,2018,2020,2022],"format":"d","title":null,"labelOverlap":false,"labelAngle":-60,"labelFontSize":17}},"y":{"field":"y","type":"quantitative","scale":{"domain":[0,10],"nice":false},"axis":{"values":[0,2,4,6,8,10],"format":".2f","title":"SMR (School)","titlePadding":18}},"color":{"field":"s","type":"nominal","scale":{"domain":["B","R"],"range":["#0000ff","#ff0000"]},"legend":null}}}
]},
{"width":236,"height":301,"title":{"text":"(f2)","dx":-70},"layer":[
{"data":{"name":"mks"},"transform":[{"filter":"datum.p==='f2' && datum.d==='s'"}],"mark":{"type":"rule","color":"#000","strokeWidth":2},"encoding":{"x":{"field":"x","type":"quantitative","scale":{"domain":[2006,2022],"nice":false,"zero":false},"axis":{"values":[2006,2008,2010,2012,2014,2016,2018,2020,2022],"format":"d","title":null,"labelOverlap":false,"labelAngle":-60,"labelFontSize":17}},"y":{"field":"h","type":"quantitative"},"y2":{"datum":0}}},
{"data":{"name":"mks"},"transform":[{"filter":"datum.p==='f2' && datum.d==='d'"}],"mark":{"type":"rule","color":"#000","strokeWidth":2,"strokeDash":[4,3]},"encoding":{"x":{"field":"x","type":"quantitative","scale":{"domain":[2006,2022],"nice":false,"zero":false},"axis":{"values":[2006,2008,2010,2012,2014,2016,2018,2020,2022],"format":"d","title":null,"labelOverlap":false,"labelAngle":-60,"labelFontSize":17}},"y":{"field":"h","type":"quantitative"},"y2":{"datum":0}}},
{"data":{"name":"lns"},"transform":[{"filter":"datum.p==='f2'"}],"mark":{"type":"line"},"encoding":{"x":{"field":"x","type":"quantitative","scale":{"domain":[2006,2022],"nice":false,"zero":false},"axis":{"values":[2006,2008,2010,2012,2014,2016,2018,2020,2022],"format":"d","title":null,"labelOverlap":false,"labelAngle":-60,"labelFontSize":17}},"y":{"field":"y","type":"quantitative"},"color":{"field":"s","type":"nominal","scale":{"domain":["B","R"],"range":["#0000ff","#ff0000"]},"legend":null},"detail":{"field":"g","type":"nominal"},"order":{"field":"o","type":"quantitative"},"strokeDash":{"field":"d","type":"nominal","scale":{"domain":["s","d"],"range":[[1,0],[7,4]]},"legend":null},"strokeWidth":{"field":"d","type":"ordinal","scale":{"domain":["s","d"],"range":[3,2.2]},"legend":null}}},
{"data":{"name":"pts"},"transform":[{"filter":"datum.p==='f2'"}],"mark":{"type":"point","filled":true,"size":78,"opacity":1},"encoding":{"x":{"field":"x","type":"quantitative","scale":{"domain":[2006,2022],"nice":false,"zero":false},"axis":{"values":[2006,2008,2010,2012,2014,2016,2018,2020,2022],"format":"d","title":null,"labelOverlap":false,"labelAngle":-60,"labelFontSize":17}},"y":{"field":"y","type":"quantitative","scale":{"domain":[0,12],"nice":false},"axis":{"values":[0,2,4,6,8,10,12],"format":".2f","title":null}},"color":{"field":"s","type":"nominal","scale":{"domain":["B","R"],"range":["#0000ff","#ff0000"]},"legend":null}}}
]},
{"width":236,"height":301,"title":{"text":"(f3)","dx":-70},"layer":[
{"data":{"name":"mks"},"transform":[{"filter":"datum.p==='f3' && datum.d==='s'"}],"mark":{"type":"rule","color":"#000","strokeWidth":2},"encoding":{"x":{"field":"x","type":"quantitative","scale":{"domain":[2006,2022],"nice":false,"zero":false},"axis":{"values":[2006,2008,2010,2012,2014,2016,2018,2020,2022],"format":"d","title":null,"labelOverlap":false,"labelAngle":-60,"labelFontSize":17}},"y":{"field":"h","type":"quantitative"},"y2":{"datum":0}}},
{"data":{"name":"mks"},"transform":[{"filter":"datum.p==='f3' && datum.d==='d'"}],"mark":{"type":"rule","color":"#000","strokeWidth":2,"strokeDash":[4,3]},"encoding":{"x":{"field":"x","type":"quantitative","scale":{"domain":[2006,2022],"nice":false,"zero":false},"axis":{"values":[2006,2008,2010,2012,2014,2016,2018,2020,2022],"format":"d","title":null,"labelOverlap":false,"labelAngle":-60,"labelFontSize":17}},"y":{"field":"h","type":"quantitative"},"y2":{"datum":0}}},
{"data":{"name":"lns"},"transform":[{"filter":"datum.p==='f3'"}],"mark":{"type":"line"},"encoding":{"x":{"field":"x","type":"quantitative","scale":{"domain":[2006,2022],"nice":false,"zero":false},"axis":{"values":[2006,2008,2010,2012,2014,2016,2018,2020,2022],"format":"d","title":null,"labelOverlap":false,"labelAngle":-60,"labelFontSize":17}},"y":{"field":"y","type":"quantitative"},"color":{"field":"s","type":"nominal","scale":{"domain":["B","R"],"range":["#0000ff","#ff0000"]},"legend":null},"detail":{"field":"g","type":"nominal"},"order":{"field":"o","type":"quantitative"},"strokeDash":{"field":"d","type":"nominal","scale":{"domain":["s","d"],"range":[[1,0],[7,4]]},"legend":null},"strokeWidth":{"field":"d","type":"ordinal","scale":{"domain":["s","d"],"range":[3,2.2]},"legend":null}}},
{"data":{"name":"pts"},"transform":[{"filter":"datum.p==='f3'"}],"mark":{"type":"point","filled":true,"size":78,"opacity":1},"encoding":{"x":{"field":"x","type":"quantitative","scale":{"domain":[2006,2022],"nice":false,"zero":false},"axis":{"values":[2006,2008,2010,2012,2014,2016,2018,2020,2022],"format":"d","title":null,"labelOverlap":false,"labelAngle":-60,"labelFontSize":17}},"y":{"field":"y","type":"quantitative","scale":{"domain":[0,15],"nice":false},"axis":{"values":[0,5,10,15],"format":".2f","title":null}},"color":{"field":"s","type":"nominal","scale":{"domain":["B","R"],"range":["#0000ff","#ff0000"]},"legend":null}}}
]}
],
"config":{
"font":"Liberation Sans",
"view":{"stroke":null},
"axis":{"grid":false,"domainColor":"#000","domainWidth":2,"tickColor":"#000","tickWidth":2,"tickSize":7,"labelFontSize":18,"labelColor":"#000","labelPadding":3,"titleFontSize":22,"titleFontWeight":"normal","titleColor":"#000","labelFont":"Liberation Sans","titleFont":"Liberation Sans"},
"axisX":{"labelAngle":-60,"labelPadding":3,"labelOverlap":false},
"axisY":{"minExtent":55,"maxExtent":55},
"title":{"anchor":"start","frame":"group","fontSize":21,"fontWeight":"normal","offset":6,"color":"#000","font":"Liberation Sans"}
}
}
